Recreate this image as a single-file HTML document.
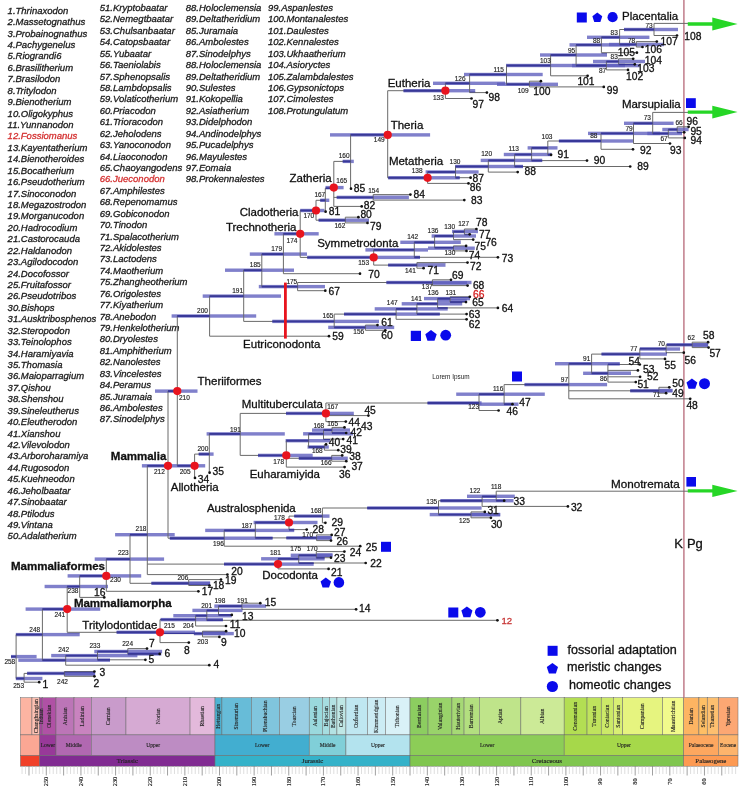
<!DOCTYPE html><html><head><meta charset="utf-8"><title>Mammaliaform phylogeny</title><style>
html,body{margin:0;padding:0;background:#fff;width:752px;height:798px;overflow:hidden}
svg{display:block} text{stroke-width:0.3px;stroke-linejoin:round}
.sp{stroke:#1a1a1a;font-family:"Liberation Sans",Arial,sans-serif;font-style:italic;font-size:9.5px;fill:#1a1a1a}
.tip{stroke:#111;font-family:"Liberation Sans",Arial,sans-serif;font-size:10.3px;fill:#111}
.tipred{stroke:#d42020;font-family:"Liberation Sans",Arial,sans-serif;font-size:10.3px;fill:#d42020}
.tipred2{stroke:#c83838;font-family:"Liberation Sans",Arial,sans-serif;font-size:9.6px;fill:#c83838}
.age{font-family:"Liberation Sans",Arial,sans-serif;font-size:6.5px;fill:#222;stroke:#222;stroke-width:0.15px}
.clade{stroke:#111;font-family:"Liberation Sans",Arial,sans-serif;font-size:11.5px;fill:#111}
.clade2{stroke:#111;font-family:"Liberation Sans",Arial,sans-serif;font-size:11.7px;fill:#111}
.bold{stroke:#111;font-family:"Liberation Sans",Arial,sans-serif;font-size:11.5px;font-weight:bold;fill:#111}
.small{font-family:"Liberation Sans",Arial,sans-serif;font-size:6.4px;fill:#222}
.leg{stroke:#111;font-family:"Liberation Sans",Arial,sans-serif;font-size:12.6px;fill:#111}
.kpg{stroke:#111;font-family:"Liberation Sans",Arial,sans-serif;font-size:13px;fill:#111}
.ts{font-family:"Liberation Serif","Times New Roman",serif;font-size:5.7px;fill:#222;stroke:#222;stroke-width:0.12px}
.tsb{font-family:"Liberation Serif","Times New Roman",serif;font-size:6.8px;fill:#222;stroke:#222;stroke-width:0.15px}
.tk{font-family:"Liberation Serif","Times New Roman",serif;font-size:6.3px;fill:#222;stroke:#222;stroke-width:0.15px}
</style></head><body>
<svg width="752" height="798" viewBox="0 0 752 798">
<text class="sp" x="7.6" y="13.6">1.Thrinaxodon</text>
<text class="sp" x="7.6" y="25.0">2.Massetognathus</text>
<text class="sp" x="7.6" y="36.5">3.Probainognathus</text>
<text class="sp" x="7.6" y="47.9">4.Pachygenelus</text>
<text class="sp" x="7.6" y="59.3">5.Riograndi6</text>
<text class="sp" x="7.6" y="70.8">6.Brasilitherium</text>
<text class="sp" x="7.6" y="82.2">7.Brasilodon</text>
<text class="sp" x="7.6" y="93.6">8.Tritylodon</text>
<text class="sp" x="7.6" y="105.0">9.Bienotherium</text>
<text class="sp" x="7.6" y="116.5">10.Oligokyphus</text>
<text class="sp" x="7.6" y="127.9">11.Yunnanodon</text>
<text class="sp" x="7.6" y="139.3" style="fill:#d43030;stroke:#d43030">12.Fossiomanus</text>
<text class="sp" x="7.6" y="150.8">13.Kayentatherium</text>
<text class="sp" x="7.6" y="162.2">14.Bienotheroides</text>
<text class="sp" x="7.6" y="173.6">15.Bocatherium</text>
<text class="sp" x="7.6" y="185.0">16.Pseudotherium</text>
<text class="sp" x="7.6" y="196.5">17.Sinoconodon</text>
<text class="sp" x="7.6" y="207.9">18.Megazostrodon</text>
<text class="sp" x="7.6" y="219.3">19.Morganucodon</text>
<text class="sp" x="7.6" y="230.8">20.Hadrocodium</text>
<text class="sp" x="7.6" y="242.2">21.Castorocauda</text>
<text class="sp" x="7.6" y="253.6">22.Haldanodon</text>
<text class="sp" x="7.6" y="265.1">23.Agilodocodon</text>
<text class="sp" x="7.6" y="276.5">24.Docofossor</text>
<text class="sp" x="7.6" y="287.9">25.Fruitafossor</text>
<text class="sp" x="7.6" y="299.4">26.Pseudotribos</text>
<text class="sp" x="7.6" y="310.8">30.Bishops</text>
<text class="sp" x="7.6" y="322.2">31.Ausktribosphenos</text>
<text class="sp" x="7.6" y="333.6">32.Steropodon</text>
<text class="sp" x="7.6" y="345.1">33.Teinolophos</text>
<text class="sp" x="7.6" y="356.5">34.Haramiyavia</text>
<text class="sp" x="7.6" y="367.9">35.Thomasia</text>
<text class="sp" x="7.6" y="379.4">36.Maioparragium</text>
<text class="sp" x="7.6" y="390.8">37.Qishou</text>
<text class="sp" x="7.6" y="402.2">38.Shenshou</text>
<text class="sp" x="7.6" y="413.7">39.Sineleutherus</text>
<text class="sp" x="7.6" y="425.1">40.Eleutherodon</text>
<text class="sp" x="7.6" y="436.5">41.Xianshou</text>
<text class="sp" x="7.6" y="447.9">42.Vilevolodon</text>
<text class="sp" x="7.6" y="459.4">43.Arboroharamiya</text>
<text class="sp" x="7.6" y="470.8">44.Rugosodon</text>
<text class="sp" x="7.6" y="482.2">45.Kuehneodon</text>
<text class="sp" x="7.6" y="493.7">46.Jeholbaatar</text>
<text class="sp" x="7.6" y="505.1">47.Sinobaatar</text>
<text class="sp" x="7.6" y="516.5">48.Ptilodus</text>
<text class="sp" x="7.6" y="528.0">49.Vintana</text>
<text class="sp" x="7.6" y="539.4">50.Adalatherium</text>
<text class="sp" x="99.8" y="10.9">51.Kryptobaatar</text>
<text class="sp" x="99.8" y="22.3">52.Nemegtbaatar</text>
<text class="sp" x="99.8" y="33.8">53.Chulsanbaatar</text>
<text class="sp" x="99.8" y="45.2">54.Catopsbaatar</text>
<text class="sp" x="99.8" y="56.6">55.Yubaatar</text>
<text class="sp" x="99.8" y="68.0">56.Taeniolabis</text>
<text class="sp" x="99.8" y="79.5">57.Sphenopsalis</text>
<text class="sp" x="99.8" y="90.9">58.Lambdopsalis</text>
<text class="sp" x="99.8" y="102.3">59.Volaticotherium</text>
<text class="sp" x="99.8" y="113.8">60.Priacodon</text>
<text class="sp" x="99.8" y="125.2">61.Trioracodon</text>
<text class="sp" x="99.8" y="136.6">62.Jeholodens</text>
<text class="sp" x="99.8" y="148.1">63.Yanoconodon</text>
<text class="sp" x="99.8" y="159.5">64.Liaoconodon</text>
<text class="sp" x="99.8" y="170.9">65.Chaoyangodens</text>
<text class="sp" x="99.8" y="182.3" style="fill:#d43030;stroke:#d43030">66.Jueconodon</text>
<text class="sp" x="99.8" y="193.8">67.Amphilestes</text>
<text class="sp" x="99.8" y="205.2">68.Repenomamus</text>
<text class="sp" x="99.8" y="216.6">69.Gobiconodon</text>
<text class="sp" x="99.8" y="228.1">70.Tinodon</text>
<text class="sp" x="99.8" y="239.5">71.Spalacotherium</text>
<text class="sp" x="99.8" y="250.9">72.Akidolestes</text>
<text class="sp" x="99.8" y="262.4">73.Lactodens</text>
<text class="sp" x="99.8" y="273.8">74.Maotherium</text>
<text class="sp" x="99.8" y="285.2">75.Zhangheotherium</text>
<text class="sp" x="99.8" y="296.6">76.Origolestes</text>
<text class="sp" x="99.8" y="308.1">77.Kiyatherium</text>
<text class="sp" x="99.8" y="319.5">78.Anebodon</text>
<text class="sp" x="99.8" y="330.9">79.Henkelotherium</text>
<text class="sp" x="99.8" y="342.4">80.Dryolestes</text>
<text class="sp" x="99.8" y="353.8">81.Amphitherium</text>
<text class="sp" x="99.8" y="365.2">82.Nanolestes</text>
<text class="sp" x="99.8" y="376.7">83.Vincelestes</text>
<text class="sp" x="99.8" y="388.1">84.Peramus</text>
<text class="sp" x="99.8" y="399.5">85.Juramaia</text>
<text class="sp" x="99.8" y="410.9">86.Ambolestes</text>
<text class="sp" x="99.8" y="422.4">87.Sinodelphys</text>
<text class="sp" x="185.8" y="10.9">88.Holoclemensia</text>
<text class="sp" x="185.8" y="22.3">89.Deltatheridium</text>
<text class="sp" x="185.8" y="33.8">85.Juramaia</text>
<text class="sp" x="185.8" y="45.2">86.Ambolestes</text>
<text class="sp" x="185.8" y="56.6">87.Sinodelphys</text>
<text class="sp" x="185.8" y="68.0">88.Holoclemensia</text>
<text class="sp" x="185.8" y="79.5">89.Deltatheridium</text>
<text class="sp" x="185.8" y="90.9">90.Sulestes</text>
<text class="sp" x="185.8" y="102.3">91.Kokopellia</text>
<text class="sp" x="185.8" y="113.8">92.Asiatherium</text>
<text class="sp" x="185.8" y="125.2">93.Didelphodon</text>
<text class="sp" x="185.8" y="136.6">94.Andinodelphys</text>
<text class="sp" x="185.8" y="148.1">95.Pucadelphys</text>
<text class="sp" x="185.8" y="159.5">96.Mayulestes</text>
<text class="sp" x="185.8" y="170.9">97.Eomaia</text>
<text class="sp" x="185.8" y="182.3">98.Prokennalestes</text>
<text class="sp" x="268.0" y="10.9">99.Aspanlestes</text>
<text class="sp" x="268.0" y="22.3">100.Montanalestes</text>
<text class="sp" x="268.0" y="33.8">101.Daulestes</text>
<text class="sp" x="268.0" y="45.2">102.Kennalestes</text>
<text class="sp" x="268.0" y="56.6">103.Ukhaatherium</text>
<text class="sp" x="268.0" y="68.0">104.Asioryctes</text>
<text class="sp" x="268.0" y="79.5">105.Zalambdalestes</text>
<text class="sp" x="268.0" y="90.9">106.Gypsonictops</text>
<text class="sp" x="268.0" y="102.3">107.Cimolestes</text>
<text class="sp" x="268.0" y="113.8">108.Protungulatum</text>
<g stroke="#6a6a6a" stroke-width="0.5">
<rect x="20.40" y="697.7" width="11.56" height="37.20" fill="#FCB4A2"/>
<rect x="31.96" y="697.7" width="7.75" height="37.20" fill="#FCC0B2"/>
<rect x="39.71" y="697.7" width="2.43" height="37.20" fill="#A4469F"/>
<rect x="42.14" y="697.7" width="13.86" height="37.20" fill="#B051A5"/>
<rect x="56.00" y="697.7" width="18.01" height="37.20" fill="#BC75B7"/>
<rect x="74.01" y="697.7" width="17.32" height="37.20" fill="#C983BF"/>
<rect x="91.33" y="697.7" width="34.64" height="37.20" fill="#C99BCB"/>
<rect x="125.97" y="697.7" width="64.08" height="37.20" fill="#D6AAD3"/>
<rect x="190.06" y="697.7" width="24.94" height="37.20" fill="#E3B9DB"/>
<rect x="215.00" y="697.7" width="6.93" height="37.20" fill="#4EB3D3"/>
<rect x="221.92" y="697.7" width="29.44" height="37.20" fill="#67BCD8"/>
<rect x="251.37" y="697.7" width="28.06" height="37.20" fill="#80C5DD"/>
<rect x="279.43" y="697.7" width="29.79" height="37.20" fill="#99CEE3"/>
<rect x="309.22" y="697.7" width="13.16" height="37.20" fill="#9AD9DD"/>
<rect x="322.38" y="697.7" width="6.93" height="37.20" fill="#A6DDE0"/>
<rect x="329.31" y="697.7" width="7.62" height="37.20" fill="#B3E2E3"/>
<rect x="336.93" y="697.7" width="9.01" height="37.20" fill="#BFE7E5"/>
<rect x="345.94" y="697.7" width="21.48" height="37.20" fill="#BFE7F1"/>
<rect x="367.41" y="697.7" width="18.01" height="37.20" fill="#CCECF4"/>
<rect x="385.43" y="697.7" width="24.59" height="37.20" fill="#D9F1F7"/>
<rect x="410.02" y="697.7" width="18.01" height="37.20" fill="#8CCD60"/>
<rect x="428.03" y="697.7" width="23.90" height="37.20" fill="#99D36A"/>
<rect x="451.93" y="697.7" width="12.12" height="37.20" fill="#A6D975"/>
<rect x="464.06" y="697.7" width="15.24" height="37.20" fill="#B3DF7F"/>
<rect x="479.30" y="697.7" width="41.57" height="37.20" fill="#BFE48A"/>
<rect x="520.87" y="697.7" width="43.30" height="37.20" fill="#CCEA97"/>
<rect x="564.17" y="697.7" width="22.86" height="37.20" fill="#B3DE53"/>
<rect x="587.03" y="697.7" width="14.20" height="37.20" fill="#BFE35D"/>
<rect x="601.23" y="697.7" width="12.12" height="37.20" fill="#CCE968"/>
<rect x="613.36" y="697.7" width="9.35" height="37.20" fill="#D9EF74"/>
<rect x="622.71" y="697.7" width="39.84" height="37.20" fill="#E6F47F"/>
<rect x="662.55" y="697.7" width="21.13" height="37.20" fill="#F2FA8C"/>
<rect x="683.68" y="697.7" width="15.24" height="37.20" fill="#FDB462"/>
<rect x="698.92" y="697.7" width="8.31" height="37.20" fill="#FEBF65"/>
<rect x="707.23" y="697.7" width="11.08" height="37.20" fill="#FDBF6F"/>
<rect x="718.32" y="697.7" width="19.68" height="37.20" fill="#FCA773"/>
<rect x="20.40" y="734.9" width="19.31" height="20.80" fill="#FBA794"/>
<rect x="39.71" y="734.9" width="16.29" height="20.80" fill="#983999"/>
<rect x="56.00" y="734.9" width="35.33" height="20.80" fill="#B168B1"/>
<rect x="91.33" y="734.9" width="123.66" height="20.80" fill="#BD8CC3"/>
<rect x="215.00" y="734.9" width="94.22" height="20.80" fill="#42AED0"/>
<rect x="309.22" y="734.9" width="36.72" height="20.80" fill="#80CFD8"/>
<rect x="345.94" y="734.9" width="64.08" height="20.80" fill="#B3E3EE"/>
<rect x="410.02" y="734.9" width="154.15" height="20.80" fill="#8CCD57"/>
<rect x="564.17" y="734.9" width="119.51" height="20.80" fill="#A6D84A"/>
<rect x="683.68" y="734.9" width="34.64" height="20.80" fill="#FDA75F"/>
<rect x="718.32" y="734.9" width="19.68" height="20.80" fill="#FDB46C"/>
<rect x="20.40" y="755.7" width="19.31" height="10.50" fill="#F04028"/>
<rect x="39.71" y="755.7" width="175.29" height="10.50" fill="#812B92"/>
<rect x="215.00" y="755.7" width="195.02" height="10.50" fill="#34B2C9"/>
<rect x="410.02" y="755.7" width="273.66" height="10.50" fill="#7FC64E"/>
<rect x="683.68" y="755.7" width="54.32" height="10.50" fill="#FD9A52"/>
</g>
<text class="ts" x="37.54" y="716.30" text-anchor="middle" transform="rotate(-90 37.54 716.30)">Changhsingian</text>
<text class="ts" x="42.63" y="716.30" text-anchor="middle" transform="rotate(-90 42.63 716.30)">Induan</text>
<text class="ts" x="50.77" y="716.30" text-anchor="middle" transform="rotate(-90 50.77 716.30)">Olenekian</text>
<text class="ts" x="66.71" y="716.30" text-anchor="middle" transform="rotate(-90 66.71 716.30)">Anisian</text>
<text class="ts" x="84.37" y="716.30" text-anchor="middle" transform="rotate(-90 84.37 716.30)">Ladinian</text>
<text class="ts" x="110.35" y="716.30" text-anchor="middle" transform="rotate(-90 110.35 716.30)">Carnian</text>
<text class="ts" x="159.71" y="716.30" text-anchor="middle" transform="rotate(-90 159.71 716.30)">Norian</text>
<text class="ts" x="204.23" y="716.30" text-anchor="middle" transform="rotate(-90 204.23 716.30)">Rhaetian</text>
<text class="ts" x="220.16" y="716.30" text-anchor="middle" transform="rotate(-90 220.16 716.30)">Hettangian</text>
<text class="ts" x="238.35" y="716.30" text-anchor="middle" transform="rotate(-90 238.35 716.30)">Sinemurian</text>
<text class="ts" x="267.10" y="716.30" text-anchor="middle" transform="rotate(-90 267.10 716.30)">Pliensbachian</text>
<text class="ts" x="296.02" y="716.30" text-anchor="middle" transform="rotate(-90 296.02 716.30)">Toarcian</text>
<text class="ts" x="317.50" y="716.30" text-anchor="middle" transform="rotate(-90 317.50 716.30)">Aalenian</text>
<text class="ts" x="327.54" y="716.30" text-anchor="middle" transform="rotate(-90 327.54 716.30)">Bajocian</text>
<text class="ts" x="334.82" y="716.30" text-anchor="middle" transform="rotate(-90 334.82 716.30)">Bathonian</text>
<text class="ts" x="343.13" y="716.30" text-anchor="middle" transform="rotate(-90 343.13 716.30)">Callovian</text>
<text class="ts" x="358.37" y="716.30" text-anchor="middle" transform="rotate(-90 358.37 716.30)">Oxfordian</text>
<text class="ts" x="378.12" y="716.30" text-anchor="middle" transform="rotate(-90 378.12 716.30)">Kimmeridgian</text>
<text class="ts" x="399.42" y="716.30" text-anchor="middle" transform="rotate(-90 399.42 716.30)">Tithonian</text>
<text class="ts" x="420.73" y="716.30" text-anchor="middle" transform="rotate(-90 420.73 716.30)">Berriasian</text>
<text class="ts" x="441.68" y="716.30" text-anchor="middle" transform="rotate(-90 441.68 716.30)">Valanginian</text>
<text class="ts" x="459.70" y="716.30" text-anchor="middle" transform="rotate(-90 459.70 716.30)">Hauterivian</text>
<text class="ts" x="473.38" y="716.30" text-anchor="middle" transform="rotate(-90 473.38 716.30)">Barremian</text>
<text class="ts" x="501.78" y="716.30" text-anchor="middle" transform="rotate(-90 501.78 716.30)">Aptian</text>
<text class="ts" x="544.22" y="716.30" text-anchor="middle" transform="rotate(-90 544.22 716.30)">Albian</text>
<text class="ts" x="577.30" y="716.30" text-anchor="middle" transform="rotate(-90 577.30 716.30)">Cenomanian</text>
<text class="ts" x="595.83" y="716.30" text-anchor="middle" transform="rotate(-90 595.83 716.30)">Turonian</text>
<text class="ts" x="608.99" y="716.30" text-anchor="middle" transform="rotate(-90 608.99 716.30)">Coniacian</text>
<text class="ts" x="619.73" y="716.30" text-anchor="middle" transform="rotate(-90 619.73 716.30)">Santonian</text>
<text class="ts" x="644.33" y="716.30" text-anchor="middle" transform="rotate(-90 644.33 716.30)">Campanian</text>
<text class="ts" x="674.81" y="716.30" text-anchor="middle" transform="rotate(-90 674.81 716.30)">Maastrichtian</text>
<text class="ts" x="693.00" y="716.30" text-anchor="middle" transform="rotate(-90 693.00 716.30)">Danian</text>
<text class="ts" x="704.77" y="716.30" text-anchor="middle" transform="rotate(-90 704.77 716.30)">Selandian</text>
<text class="ts" x="714.47" y="716.30" text-anchor="middle" transform="rotate(-90 714.47 716.30)">Thanetian</text>
<text class="ts" x="729.86" y="716.30" text-anchor="middle" transform="rotate(-90 729.86 716.30)">Ypresian</text>
<text class="ts" x="47.86" y="747.30" text-anchor="middle" style="font-size:5.5px">Lower</text>
<text class="ts" x="73.67" y="747.30" text-anchor="middle" style="font-size:5.5px">Middle</text>
<text class="ts" x="153.16" y="747.30" text-anchor="middle" style="font-size:5.5px">Upper</text>
<text class="ts" x="262.11" y="747.30" text-anchor="middle" style="font-size:5.5px">Lower</text>
<text class="ts" x="327.58" y="747.30" text-anchor="middle" style="font-size:5.5px">Middle</text>
<text class="ts" x="377.98" y="747.30" text-anchor="middle" style="font-size:5.5px">Upper</text>
<text class="ts" x="487.09" y="747.30" text-anchor="middle" style="font-size:5.5px">Lower</text>
<text class="ts" x="623.92" y="747.30" text-anchor="middle" style="font-size:5.5px">Upper</text>
<text class="ts" x="701.00" y="747.30" text-anchor="middle" style="font-size:5.5px">Palaeocene</text>
<text class="ts" x="728.16" y="747.30" text-anchor="middle" style="font-size:5.5px">Eocene</text>
<text class="tsb" x="127.35" y="763.25" text-anchor="middle">Triassic</text>
<text class="tsb" x="312.51" y="763.25" text-anchor="middle">Jurassic</text>
<text class="tsb" x="546.85" y="763.25" text-anchor="middle">Cretaceous</text>
<text class="tsb" x="710.84" y="763.25" text-anchor="middle">Palaeogene</text>
<line x1="22.05" y1="766.2" x2="22.05" y2="774" stroke="#c8c8c8" stroke-width="0.6"/><line x1="25.52" y1="766.2" x2="25.52" y2="774" stroke="#c8c8c8" stroke-width="0.6"/><line x1="28.98" y1="766.2" x2="28.98" y2="775.5" stroke="#777" stroke-width="0.7"/><line x1="32.44" y1="766.2" x2="32.44" y2="774" stroke="#c8c8c8" stroke-width="0.6"/><line x1="35.91" y1="766.2" x2="35.91" y2="774" stroke="#c8c8c8" stroke-width="0.6"/><line x1="39.37" y1="766.2" x2="39.37" y2="774" stroke="#c8c8c8" stroke-width="0.6"/><line x1="42.84" y1="766.2" x2="42.84" y2="774" stroke="#c8c8c8" stroke-width="0.6"/><line x1="46.30" y1="766.2" x2="46.30" y2="775.5" stroke="#777" stroke-width="0.7"/><text class="tk" x="48.20" y="781.5" text-anchor="middle" transform="rotate(-90 48.20 781.5)">250</text><line x1="49.76" y1="766.2" x2="49.76" y2="774" stroke="#c8c8c8" stroke-width="0.6"/><line x1="53.23" y1="766.2" x2="53.23" y2="774" stroke="#c8c8c8" stroke-width="0.6"/><line x1="56.69" y1="766.2" x2="56.69" y2="774" stroke="#c8c8c8" stroke-width="0.6"/><line x1="60.16" y1="766.2" x2="60.16" y2="774" stroke="#c8c8c8" stroke-width="0.6"/><line x1="63.62" y1="766.2" x2="63.62" y2="775.5" stroke="#777" stroke-width="0.7"/><line x1="67.08" y1="766.2" x2="67.08" y2="774" stroke="#c8c8c8" stroke-width="0.6"/><line x1="70.55" y1="766.2" x2="70.55" y2="774" stroke="#c8c8c8" stroke-width="0.6"/><line x1="74.01" y1="766.2" x2="74.01" y2="774" stroke="#c8c8c8" stroke-width="0.6"/><line x1="77.48" y1="766.2" x2="77.48" y2="774" stroke="#c8c8c8" stroke-width="0.6"/><line x1="80.94" y1="766.2" x2="80.94" y2="775.5" stroke="#777" stroke-width="0.7"/><text class="tk" x="82.84" y="781.5" text-anchor="middle" transform="rotate(-90 82.84 781.5)">240</text><line x1="84.40" y1="766.2" x2="84.40" y2="774" stroke="#c8c8c8" stroke-width="0.6"/><line x1="87.87" y1="766.2" x2="87.87" y2="774" stroke="#c8c8c8" stroke-width="0.6"/><line x1="91.33" y1="766.2" x2="91.33" y2="774" stroke="#c8c8c8" stroke-width="0.6"/><line x1="94.80" y1="766.2" x2="94.80" y2="774" stroke="#c8c8c8" stroke-width="0.6"/><line x1="98.26" y1="766.2" x2="98.26" y2="775.5" stroke="#777" stroke-width="0.7"/><line x1="101.72" y1="766.2" x2="101.72" y2="774" stroke="#c8c8c8" stroke-width="0.6"/><line x1="105.19" y1="766.2" x2="105.19" y2="774" stroke="#c8c8c8" stroke-width="0.6"/><line x1="108.65" y1="766.2" x2="108.65" y2="774" stroke="#c8c8c8" stroke-width="0.6"/><line x1="112.12" y1="766.2" x2="112.12" y2="774" stroke="#c8c8c8" stroke-width="0.6"/><line x1="115.58" y1="766.2" x2="115.58" y2="775.5" stroke="#777" stroke-width="0.7"/><text class="tk" x="117.48" y="781.5" text-anchor="middle" transform="rotate(-90 117.48 781.5)">230</text><line x1="119.04" y1="766.2" x2="119.04" y2="774" stroke="#c8c8c8" stroke-width="0.6"/><line x1="122.51" y1="766.2" x2="122.51" y2="774" stroke="#c8c8c8" stroke-width="0.6"/><line x1="125.97" y1="766.2" x2="125.97" y2="774" stroke="#c8c8c8" stroke-width="0.6"/><line x1="129.44" y1="766.2" x2="129.44" y2="774" stroke="#c8c8c8" stroke-width="0.6"/><line x1="132.90" y1="766.2" x2="132.90" y2="775.5" stroke="#777" stroke-width="0.7"/><line x1="136.36" y1="766.2" x2="136.36" y2="774" stroke="#c8c8c8" stroke-width="0.6"/><line x1="139.83" y1="766.2" x2="139.83" y2="774" stroke="#c8c8c8" stroke-width="0.6"/><line x1="143.29" y1="766.2" x2="143.29" y2="774" stroke="#c8c8c8" stroke-width="0.6"/><line x1="146.76" y1="766.2" x2="146.76" y2="774" stroke="#c8c8c8" stroke-width="0.6"/><line x1="150.22" y1="766.2" x2="150.22" y2="775.5" stroke="#777" stroke-width="0.7"/><text class="tk" x="152.12" y="781.5" text-anchor="middle" transform="rotate(-90 152.12 781.5)">220</text><line x1="153.68" y1="766.2" x2="153.68" y2="774" stroke="#c8c8c8" stroke-width="0.6"/><line x1="157.15" y1="766.2" x2="157.15" y2="774" stroke="#c8c8c8" stroke-width="0.6"/><line x1="160.61" y1="766.2" x2="160.61" y2="774" stroke="#c8c8c8" stroke-width="0.6"/><line x1="164.08" y1="766.2" x2="164.08" y2="774" stroke="#c8c8c8" stroke-width="0.6"/><line x1="167.54" y1="766.2" x2="167.54" y2="775.5" stroke="#777" stroke-width="0.7"/><line x1="171.00" y1="766.2" x2="171.00" y2="774" stroke="#c8c8c8" stroke-width="0.6"/><line x1="174.47" y1="766.2" x2="174.47" y2="774" stroke="#c8c8c8" stroke-width="0.6"/><line x1="177.93" y1="766.2" x2="177.93" y2="774" stroke="#c8c8c8" stroke-width="0.6"/><line x1="181.40" y1="766.2" x2="181.40" y2="774" stroke="#c8c8c8" stroke-width="0.6"/><line x1="184.86" y1="766.2" x2="184.86" y2="775.5" stroke="#777" stroke-width="0.7"/><text class="tk" x="186.76" y="781.5" text-anchor="middle" transform="rotate(-90 186.76 781.5)">210</text><line x1="188.32" y1="766.2" x2="188.32" y2="774" stroke="#c8c8c8" stroke-width="0.6"/><line x1="191.79" y1="766.2" x2="191.79" y2="774" stroke="#c8c8c8" stroke-width="0.6"/><line x1="195.25" y1="766.2" x2="195.25" y2="774" stroke="#c8c8c8" stroke-width="0.6"/><line x1="198.72" y1="766.2" x2="198.72" y2="774" stroke="#c8c8c8" stroke-width="0.6"/><line x1="202.18" y1="766.2" x2="202.18" y2="775.5" stroke="#777" stroke-width="0.7"/><line x1="205.64" y1="766.2" x2="205.64" y2="774" stroke="#c8c8c8" stroke-width="0.6"/><line x1="209.11" y1="766.2" x2="209.11" y2="774" stroke="#c8c8c8" stroke-width="0.6"/><line x1="212.57" y1="766.2" x2="212.57" y2="774" stroke="#c8c8c8" stroke-width="0.6"/><line x1="216.04" y1="766.2" x2="216.04" y2="774" stroke="#c8c8c8" stroke-width="0.6"/><line x1="219.50" y1="766.2" x2="219.50" y2="775.5" stroke="#777" stroke-width="0.7"/><text class="tk" x="221.40" y="781.5" text-anchor="middle" transform="rotate(-90 221.40 781.5)">200</text><line x1="222.96" y1="766.2" x2="222.96" y2="774" stroke="#c8c8c8" stroke-width="0.6"/><line x1="226.43" y1="766.2" x2="226.43" y2="774" stroke="#c8c8c8" stroke-width="0.6"/><line x1="229.89" y1="766.2" x2="229.89" y2="774" stroke="#c8c8c8" stroke-width="0.6"/><line x1="233.36" y1="766.2" x2="233.36" y2="774" stroke="#c8c8c8" stroke-width="0.6"/><line x1="236.82" y1="766.2" x2="236.82" y2="775.5" stroke="#777" stroke-width="0.7"/><line x1="240.28" y1="766.2" x2="240.28" y2="774" stroke="#c8c8c8" stroke-width="0.6"/><line x1="243.75" y1="766.2" x2="243.75" y2="774" stroke="#c8c8c8" stroke-width="0.6"/><line x1="247.21" y1="766.2" x2="247.21" y2="774" stroke="#c8c8c8" stroke-width="0.6"/><line x1="250.68" y1="766.2" x2="250.68" y2="774" stroke="#c8c8c8" stroke-width="0.6"/><line x1="254.14" y1="766.2" x2="254.14" y2="775.5" stroke="#777" stroke-width="0.7"/><text class="tk" x="256.04" y="781.5" text-anchor="middle" transform="rotate(-90 256.04 781.5)">190</text><line x1="257.60" y1="766.2" x2="257.60" y2="774" stroke="#c8c8c8" stroke-width="0.6"/><line x1="261.07" y1="766.2" x2="261.07" y2="774" stroke="#c8c8c8" stroke-width="0.6"/><line x1="264.53" y1="766.2" x2="264.53" y2="774" stroke="#c8c8c8" stroke-width="0.6"/><line x1="268.00" y1="766.2" x2="268.00" y2="774" stroke="#c8c8c8" stroke-width="0.6"/><line x1="271.46" y1="766.2" x2="271.46" y2="775.5" stroke="#777" stroke-width="0.7"/><line x1="274.92" y1="766.2" x2="274.92" y2="774" stroke="#c8c8c8" stroke-width="0.6"/><line x1="278.39" y1="766.2" x2="278.39" y2="774" stroke="#c8c8c8" stroke-width="0.6"/><line x1="281.85" y1="766.2" x2="281.85" y2="774" stroke="#c8c8c8" stroke-width="0.6"/><line x1="285.32" y1="766.2" x2="285.32" y2="774" stroke="#c8c8c8" stroke-width="0.6"/><line x1="288.78" y1="766.2" x2="288.78" y2="775.5" stroke="#777" stroke-width="0.7"/><text class="tk" x="290.68" y="781.5" text-anchor="middle" transform="rotate(-90 290.68 781.5)">180</text><line x1="292.24" y1="766.2" x2="292.24" y2="774" stroke="#c8c8c8" stroke-width="0.6"/><line x1="295.71" y1="766.2" x2="295.71" y2="774" stroke="#c8c8c8" stroke-width="0.6"/><line x1="299.17" y1="766.2" x2="299.17" y2="774" stroke="#c8c8c8" stroke-width="0.6"/><line x1="302.64" y1="766.2" x2="302.64" y2="774" stroke="#c8c8c8" stroke-width="0.6"/><line x1="306.10" y1="766.2" x2="306.10" y2="775.5" stroke="#777" stroke-width="0.7"/><line x1="309.56" y1="766.2" x2="309.56" y2="774" stroke="#c8c8c8" stroke-width="0.6"/><line x1="313.03" y1="766.2" x2="313.03" y2="774" stroke="#c8c8c8" stroke-width="0.6"/><line x1="316.49" y1="766.2" x2="316.49" y2="774" stroke="#c8c8c8" stroke-width="0.6"/><line x1="319.96" y1="766.2" x2="319.96" y2="774" stroke="#c8c8c8" stroke-width="0.6"/><line x1="323.42" y1="766.2" x2="323.42" y2="775.5" stroke="#777" stroke-width="0.7"/><text class="tk" x="325.32" y="781.5" text-anchor="middle" transform="rotate(-90 325.32 781.5)">170</text><line x1="326.88" y1="766.2" x2="326.88" y2="774" stroke="#c8c8c8" stroke-width="0.6"/><line x1="330.35" y1="766.2" x2="330.35" y2="774" stroke="#c8c8c8" stroke-width="0.6"/><line x1="333.81" y1="766.2" x2="333.81" y2="774" stroke="#c8c8c8" stroke-width="0.6"/><line x1="337.28" y1="766.2" x2="337.28" y2="774" stroke="#c8c8c8" stroke-width="0.6"/><line x1="340.74" y1="766.2" x2="340.74" y2="775.5" stroke="#777" stroke-width="0.7"/><line x1="344.20" y1="766.2" x2="344.20" y2="774" stroke="#c8c8c8" stroke-width="0.6"/><line x1="347.67" y1="766.2" x2="347.67" y2="774" stroke="#c8c8c8" stroke-width="0.6"/><line x1="351.13" y1="766.2" x2="351.13" y2="774" stroke="#c8c8c8" stroke-width="0.6"/><line x1="354.60" y1="766.2" x2="354.60" y2="774" stroke="#c8c8c8" stroke-width="0.6"/><line x1="358.06" y1="766.2" x2="358.06" y2="775.5" stroke="#777" stroke-width="0.7"/><text class="tk" x="359.96" y="781.5" text-anchor="middle" transform="rotate(-90 359.96 781.5)">160</text><line x1="361.52" y1="766.2" x2="361.52" y2="774" stroke="#c8c8c8" stroke-width="0.6"/><line x1="364.99" y1="766.2" x2="364.99" y2="774" stroke="#c8c8c8" stroke-width="0.6"/><line x1="368.45" y1="766.2" x2="368.45" y2="774" stroke="#c8c8c8" stroke-width="0.6"/><line x1="371.92" y1="766.2" x2="371.92" y2="774" stroke="#c8c8c8" stroke-width="0.6"/><line x1="375.38" y1="766.2" x2="375.38" y2="775.5" stroke="#777" stroke-width="0.7"/><line x1="378.84" y1="766.2" x2="378.84" y2="774" stroke="#c8c8c8" stroke-width="0.6"/><line x1="382.31" y1="766.2" x2="382.31" y2="774" stroke="#c8c8c8" stroke-width="0.6"/><line x1="385.77" y1="766.2" x2="385.77" y2="774" stroke="#c8c8c8" stroke-width="0.6"/><line x1="389.24" y1="766.2" x2="389.24" y2="774" stroke="#c8c8c8" stroke-width="0.6"/><line x1="392.70" y1="766.2" x2="392.70" y2="775.5" stroke="#777" stroke-width="0.7"/><text class="tk" x="394.60" y="781.5" text-anchor="middle" transform="rotate(-90 394.60 781.5)">150</text><line x1="396.16" y1="766.2" x2="396.16" y2="774" stroke="#c8c8c8" stroke-width="0.6"/><line x1="399.63" y1="766.2" x2="399.63" y2="774" stroke="#c8c8c8" stroke-width="0.6"/><line x1="403.09" y1="766.2" x2="403.09" y2="774" stroke="#c8c8c8" stroke-width="0.6"/><line x1="406.56" y1="766.2" x2="406.56" y2="774" stroke="#c8c8c8" stroke-width="0.6"/><line x1="410.02" y1="766.2" x2="410.02" y2="775.5" stroke="#777" stroke-width="0.7"/><line x1="413.48" y1="766.2" x2="413.48" y2="774" stroke="#c8c8c8" stroke-width="0.6"/><line x1="416.95" y1="766.2" x2="416.95" y2="774" stroke="#c8c8c8" stroke-width="0.6"/><line x1="420.41" y1="766.2" x2="420.41" y2="774" stroke="#c8c8c8" stroke-width="0.6"/><line x1="423.88" y1="766.2" x2="423.88" y2="774" stroke="#c8c8c8" stroke-width="0.6"/><line x1="427.34" y1="766.2" x2="427.34" y2="775.5" stroke="#777" stroke-width="0.7"/><text class="tk" x="429.24" y="781.5" text-anchor="middle" transform="rotate(-90 429.24 781.5)">140</text><line x1="430.80" y1="766.2" x2="430.80" y2="774" stroke="#c8c8c8" stroke-width="0.6"/><line x1="434.27" y1="766.2" x2="434.27" y2="774" stroke="#c8c8c8" stroke-width="0.6"/><line x1="437.73" y1="766.2" x2="437.73" y2="774" stroke="#c8c8c8" stroke-width="0.6"/><line x1="441.20" y1="766.2" x2="441.20" y2="774" stroke="#c8c8c8" stroke-width="0.6"/><line x1="444.66" y1="766.2" x2="444.66" y2="775.5" stroke="#777" stroke-width="0.7"/><line x1="448.12" y1="766.2" x2="448.12" y2="774" stroke="#c8c8c8" stroke-width="0.6"/><line x1="451.59" y1="766.2" x2="451.59" y2="774" stroke="#c8c8c8" stroke-width="0.6"/><line x1="455.05" y1="766.2" x2="455.05" y2="774" stroke="#c8c8c8" stroke-width="0.6"/><line x1="458.52" y1="766.2" x2="458.52" y2="774" stroke="#c8c8c8" stroke-width="0.6"/><line x1="461.98" y1="766.2" x2="461.98" y2="775.5" stroke="#777" stroke-width="0.7"/><text class="tk" x="463.88" y="781.5" text-anchor="middle" transform="rotate(-90 463.88 781.5)">130</text><line x1="465.44" y1="766.2" x2="465.44" y2="774" stroke="#c8c8c8" stroke-width="0.6"/><line x1="468.91" y1="766.2" x2="468.91" y2="774" stroke="#c8c8c8" stroke-width="0.6"/><line x1="472.37" y1="766.2" x2="472.37" y2="774" stroke="#c8c8c8" stroke-width="0.6"/><line x1="475.84" y1="766.2" x2="475.84" y2="774" stroke="#c8c8c8" stroke-width="0.6"/><line x1="479.30" y1="766.2" x2="479.30" y2="775.5" stroke="#777" stroke-width="0.7"/><line x1="482.76" y1="766.2" x2="482.76" y2="774" stroke="#c8c8c8" stroke-width="0.6"/><line x1="486.23" y1="766.2" x2="486.23" y2="774" stroke="#c8c8c8" stroke-width="0.6"/><line x1="489.69" y1="766.2" x2="489.69" y2="774" stroke="#c8c8c8" stroke-width="0.6"/><line x1="493.16" y1="766.2" x2="493.16" y2="774" stroke="#c8c8c8" stroke-width="0.6"/><line x1="496.62" y1="766.2" x2="496.62" y2="775.5" stroke="#777" stroke-width="0.7"/><text class="tk" x="498.52" y="781.5" text-anchor="middle" transform="rotate(-90 498.52 781.5)">120</text><line x1="500.08" y1="766.2" x2="500.08" y2="774" stroke="#c8c8c8" stroke-width="0.6"/><line x1="503.55" y1="766.2" x2="503.55" y2="774" stroke="#c8c8c8" stroke-width="0.6"/><line x1="507.01" y1="766.2" x2="507.01" y2="774" stroke="#c8c8c8" stroke-width="0.6"/><line x1="510.48" y1="766.2" x2="510.48" y2="774" stroke="#c8c8c8" stroke-width="0.6"/><line x1="513.94" y1="766.2" x2="513.94" y2="775.5" stroke="#777" stroke-width="0.7"/><line x1="517.40" y1="766.2" x2="517.40" y2="774" stroke="#c8c8c8" stroke-width="0.6"/><line x1="520.87" y1="766.2" x2="520.87" y2="774" stroke="#c8c8c8" stroke-width="0.6"/><line x1="524.33" y1="766.2" x2="524.33" y2="774" stroke="#c8c8c8" stroke-width="0.6"/><line x1="527.80" y1="766.2" x2="527.80" y2="774" stroke="#c8c8c8" stroke-width="0.6"/><line x1="531.26" y1="766.2" x2="531.26" y2="775.5" stroke="#777" stroke-width="0.7"/><text class="tk" x="533.16" y="781.5" text-anchor="middle" transform="rotate(-90 533.16 781.5)">110</text><line x1="534.72" y1="766.2" x2="534.72" y2="774" stroke="#c8c8c8" stroke-width="0.6"/><line x1="538.19" y1="766.2" x2="538.19" y2="774" stroke="#c8c8c8" stroke-width="0.6"/><line x1="541.65" y1="766.2" x2="541.65" y2="774" stroke="#c8c8c8" stroke-width="0.6"/><line x1="545.12" y1="766.2" x2="545.12" y2="774" stroke="#c8c8c8" stroke-width="0.6"/><line x1="548.58" y1="766.2" x2="548.58" y2="775.5" stroke="#777" stroke-width="0.7"/><line x1="552.04" y1="766.2" x2="552.04" y2="774" stroke="#c8c8c8" stroke-width="0.6"/><line x1="555.51" y1="766.2" x2="555.51" y2="774" stroke="#c8c8c8" stroke-width="0.6"/><line x1="558.97" y1="766.2" x2="558.97" y2="774" stroke="#c8c8c8" stroke-width="0.6"/><line x1="562.44" y1="766.2" x2="562.44" y2="774" stroke="#c8c8c8" stroke-width="0.6"/><line x1="565.90" y1="766.2" x2="565.90" y2="775.5" stroke="#777" stroke-width="0.7"/><text class="tk" x="567.80" y="781.5" text-anchor="middle" transform="rotate(-90 567.80 781.5)">100</text><line x1="569.36" y1="766.2" x2="569.36" y2="774" stroke="#c8c8c8" stroke-width="0.6"/><line x1="572.83" y1="766.2" x2="572.83" y2="774" stroke="#c8c8c8" stroke-width="0.6"/><line x1="576.29" y1="766.2" x2="576.29" y2="774" stroke="#c8c8c8" stroke-width="0.6"/><line x1="579.76" y1="766.2" x2="579.76" y2="774" stroke="#c8c8c8" stroke-width="0.6"/><line x1="583.22" y1="766.2" x2="583.22" y2="775.5" stroke="#777" stroke-width="0.7"/><line x1="586.68" y1="766.2" x2="586.68" y2="774" stroke="#c8c8c8" stroke-width="0.6"/><line x1="590.15" y1="766.2" x2="590.15" y2="774" stroke="#c8c8c8" stroke-width="0.6"/><line x1="593.61" y1="766.2" x2="593.61" y2="774" stroke="#c8c8c8" stroke-width="0.6"/><line x1="597.08" y1="766.2" x2="597.08" y2="774" stroke="#c8c8c8" stroke-width="0.6"/><line x1="600.54" y1="766.2" x2="600.54" y2="775.5" stroke="#777" stroke-width="0.7"/><text class="tk" x="602.44" y="781.5" text-anchor="middle" transform="rotate(-90 602.44 781.5)">90</text><line x1="604.00" y1="766.2" x2="604.00" y2="774" stroke="#c8c8c8" stroke-width="0.6"/><line x1="607.47" y1="766.2" x2="607.47" y2="774" stroke="#c8c8c8" stroke-width="0.6"/><line x1="610.93" y1="766.2" x2="610.93" y2="774" stroke="#c8c8c8" stroke-width="0.6"/><line x1="614.40" y1="766.2" x2="614.40" y2="774" stroke="#c8c8c8" stroke-width="0.6"/><line x1="617.86" y1="766.2" x2="617.86" y2="775.5" stroke="#777" stroke-width="0.7"/><line x1="621.32" y1="766.2" x2="621.32" y2="774" stroke="#c8c8c8" stroke-width="0.6"/><line x1="624.79" y1="766.2" x2="624.79" y2="774" stroke="#c8c8c8" stroke-width="0.6"/><line x1="628.25" y1="766.2" x2="628.25" y2="774" stroke="#c8c8c8" stroke-width="0.6"/><line x1="631.72" y1="766.2" x2="631.72" y2="774" stroke="#c8c8c8" stroke-width="0.6"/><line x1="635.18" y1="766.2" x2="635.18" y2="775.5" stroke="#777" stroke-width="0.7"/><text class="tk" x="637.08" y="781.5" text-anchor="middle" transform="rotate(-90 637.08 781.5)">80</text><line x1="638.64" y1="766.2" x2="638.64" y2="774" stroke="#c8c8c8" stroke-width="0.6"/><line x1="642.11" y1="766.2" x2="642.11" y2="774" stroke="#c8c8c8" stroke-width="0.6"/><line x1="645.57" y1="766.2" x2="645.57" y2="774" stroke="#c8c8c8" stroke-width="0.6"/><line x1="649.04" y1="766.2" x2="649.04" y2="774" stroke="#c8c8c8" stroke-width="0.6"/><line x1="652.50" y1="766.2" x2="652.50" y2="775.5" stroke="#777" stroke-width="0.7"/><line x1="655.96" y1="766.2" x2="655.96" y2="774" stroke="#c8c8c8" stroke-width="0.6"/><line x1="659.43" y1="766.2" x2="659.43" y2="774" stroke="#c8c8c8" stroke-width="0.6"/><line x1="662.89" y1="766.2" x2="662.89" y2="774" stroke="#c8c8c8" stroke-width="0.6"/><line x1="666.36" y1="766.2" x2="666.36" y2="774" stroke="#c8c8c8" stroke-width="0.6"/><line x1="669.82" y1="766.2" x2="669.82" y2="775.5" stroke="#777" stroke-width="0.7"/><text class="tk" x="671.72" y="781.5" text-anchor="middle" transform="rotate(-90 671.72 781.5)">70</text><line x1="673.28" y1="766.2" x2="673.28" y2="774" stroke="#c8c8c8" stroke-width="0.6"/><line x1="676.75" y1="766.2" x2="676.75" y2="774" stroke="#c8c8c8" stroke-width="0.6"/><line x1="680.21" y1="766.2" x2="680.21" y2="774" stroke="#c8c8c8" stroke-width="0.6"/><line x1="683.68" y1="766.2" x2="683.68" y2="774" stroke="#c8c8c8" stroke-width="0.6"/><line x1="687.14" y1="766.2" x2="687.14" y2="775.5" stroke="#777" stroke-width="0.7"/><line x1="690.60" y1="766.2" x2="690.60" y2="774" stroke="#c8c8c8" stroke-width="0.6"/><line x1="694.07" y1="766.2" x2="694.07" y2="774" stroke="#c8c8c8" stroke-width="0.6"/><line x1="697.53" y1="766.2" x2="697.53" y2="774" stroke="#c8c8c8" stroke-width="0.6"/><line x1="701.00" y1="766.2" x2="701.00" y2="774" stroke="#c8c8c8" stroke-width="0.6"/><line x1="704.46" y1="766.2" x2="704.46" y2="775.5" stroke="#777" stroke-width="0.7"/><text class="tk" x="706.36" y="781.5" text-anchor="middle" transform="rotate(-90 706.36 781.5)">60</text><line x1="707.92" y1="766.2" x2="707.92" y2="774" stroke="#c8c8c8" stroke-width="0.6"/><line x1="711.39" y1="766.2" x2="711.39" y2="774" stroke="#c8c8c8" stroke-width="0.6"/><line x1="714.85" y1="766.2" x2="714.85" y2="774" stroke="#c8c8c8" stroke-width="0.6"/><line x1="718.32" y1="766.2" x2="718.32" y2="774" stroke="#c8c8c8" stroke-width="0.6"/><line x1="721.78" y1="766.2" x2="721.78" y2="775.5" stroke="#777" stroke-width="0.7"/><line x1="725.24" y1="766.2" x2="725.24" y2="774" stroke="#c8c8c8" stroke-width="0.6"/><line x1="728.71" y1="766.2" x2="728.71" y2="774" stroke="#c8c8c8" stroke-width="0.6"/><line x1="732.17" y1="766.2" x2="732.17" y2="774" stroke="#c8c8c8" stroke-width="0.6"/><line x1="735.64" y1="766.2" x2="735.64" y2="774" stroke="#c8c8c8" stroke-width="0.6"/>
<line x1="683.9" y1="0" x2="683.9" y2="697.7" stroke="#c07c8a" stroke-width="1.5"/>
<defs><clipPath id="bc">
<rect x="403.5" y="89.0" width="71.7" height="3.4"/>
<rect x="433.0" y="81.6" width="72.0" height="3.4"/>
<rect x="464.0" y="72.8" width="78.7" height="3.4"/>
<rect x="497.0" y="82.6" width="61.0" height="3.4"/>
<rect x="529.5" y="82.3" width="11.5" height="3.4"/>
<rect x="506.0" y="63.8" width="119.0" height="3.4"/>
<rect x="540.0" y="53.3" width="67.0" height="3.4"/>
<rect x="572.0" y="63.9" width="68.0" height="3.4"/>
<rect x="593.0" y="59.8" width="52.0" height="3.4"/>
<rect x="569.5" y="43.2" width="60.5" height="3.4"/>
<rect x="587.0" y="35.6" width="62.4" height="3.4"/>
<rect x="609.0" y="42.8" width="55.0" height="3.4"/>
<rect x="624.0" y="27.8" width="54.0" height="3.4"/>
<rect x="330.0" y="133.2" width="100.1" height="3.4"/>
<rect x="388.2" y="176.1" width="71.5" height="3.4"/>
<rect x="425.6" y="170.3" width="53.0" height="3.4"/>
<rect x="455.0" y="164.8" width="68.0" height="3.4"/>
<rect x="480.7" y="158.7" width="61.5" height="3.4"/>
<rect x="503.8" y="152.8" width="47.9" height="3.4"/>
<rect x="527.6" y="146.2" width="29.9" height="3.4"/>
<rect x="558.9" y="139.3" width="74.1" height="3.4"/>
<rect x="588.0" y="131.7" width="72.0" height="3.4"/>
<rect x="624.0" y="121.6" width="49.6" height="3.4"/>
<rect x="647.3" y="131.8" width="34.7" height="3.4"/>
<rect x="662.3" y="127.8" width="26.3" height="3.4"/>
<rect x="342.7" y="159.7" width="11.1" height="3.4"/>
<rect x="325.5" y="185.9" width="18.1" height="3.4"/>
<rect x="336.7" y="195.7" width="72.2" height="3.4"/>
<rect x="320.2" y="198.6" width="9.1" height="3.4"/>
<rect x="300.2" y="208.8" width="24.3" height="3.4"/>
<rect x="318.6" y="218.5" width="50.4" height="3.4"/>
<rect x="274.4" y="232.1" width="44.3" height="3.4"/>
<rect x="307.2" y="255.7" width="112.8" height="3.4"/>
<rect x="365.4" y="248.2" width="62.6" height="3.4"/>
<rect x="400.3" y="240.6" width="60.5" height="3.4"/>
<rect x="431.6" y="234.3" width="44.4" height="3.4"/>
<rect x="452.0" y="229.8" width="26.0" height="3.4"/>
<rect x="428.0" y="246.5" width="46.8" height="3.4"/>
<rect x="388.1" y="263.4" width="57.4" height="3.4"/>
<rect x="249.8" y="252.4" width="57.2" height="3.4"/>
<rect x="225.0" y="268.5" width="69.0" height="3.4"/>
<rect x="258.8" y="284.9" width="66.2" height="3.4"/>
<rect x="386.4" y="280.8" width="85.1" height="3.4"/>
<rect x="432.4" y="281.3" width="34.6" height="3.4"/>
<rect x="202.7" y="294.4" width="78.3" height="3.4"/>
<rect x="272.3" y="319.7" width="106.7" height="3.4"/>
<rect x="344.0" y="312.4" width="95.8" height="3.4"/>
<rect x="374.7" y="307.2" width="73.0" height="3.4"/>
<rect x="401.7" y="302.1" width="60.5" height="3.4"/>
<rect x="424.0" y="296.9" width="46.0" height="3.4"/>
<rect x="438.0" y="298.8" width="28.8" height="3.4"/>
<rect x="328.2" y="325.7" width="66.0" height="3.4"/>
<rect x="171.6" y="314.3" width="84.6" height="3.4"/>
<rect x="155.0" y="389.4" width="42.5" height="3.4"/>
<rect x="141.9" y="464.1" width="63.3" height="3.4"/>
<rect x="198.7" y="452.4" width="14.9" height="3.4"/>
<rect x="206.6" y="432.2" width="78.2" height="3.4"/>
<rect x="286.0" y="411.7" width="67.8" height="3.4"/>
<rect x="427.5" y="401.3" width="54.1" height="3.4"/>
<rect x="456.2" y="392.5" width="88.6" height="3.4"/>
<rect x="479.0" y="402.5" width="39.5" height="3.4"/>
<rect x="524.5" y="382.9" width="82.6" height="3.4"/>
<rect x="555.0" y="362.0" width="64.8" height="3.4"/>
<rect x="583.1" y="371.6" width="47.9" height="3.4"/>
<rect x="601.5" y="352.4" width="65.4" height="3.4"/>
<rect x="639.8" y="347.3" width="40.2" height="3.4"/>
<rect x="666.7" y="343.1" width="41.4" height="3.4"/>
<rect x="692.2" y="343.3" width="15.9" height="3.4"/>
<rect x="630.2" y="389.1" width="42.3" height="3.4"/>
<rect x="658.9" y="388.8" width="13.6" height="3.4"/>
<rect x="258.0" y="453.7" width="54.7" height="3.4"/>
<rect x="285.6" y="439.0" width="44.4" height="3.4"/>
<rect x="303.1" y="432.1" width="49.9" height="3.4"/>
<rect x="312.0" y="428.4" width="38.0" height="3.4"/>
<rect x="307.5" y="445.3" width="21.3" height="3.4"/>
<rect x="298.8" y="456.6" width="49.0" height="3.4"/>
<rect x="169.8" y="536.5" width="102.8" height="3.4"/>
<rect x="205.2" y="528.7" width="89.0" height="3.4"/>
<rect x="253.6" y="520.8" width="63.9" height="3.4"/>
<rect x="294.2" y="514.4" width="35.3" height="3.4"/>
<rect x="286.3" y="536.2" width="45.4" height="3.4"/>
<rect x="316.6" y="535.9" width="15.1" height="3.4"/>
<rect x="367.2" y="506.3" width="114.4" height="3.4"/>
<rect x="440.4" y="499.0" width="73.1" height="3.4"/>
<rect x="467.0" y="494.6" width="47.8" height="3.4"/>
<rect x="429.7" y="512.9" width="70.5" height="3.4"/>
<rect x="471.0" y="512.9" width="29.2" height="3.4"/>
<rect x="115.1" y="533.0" width="59.6" height="3.4"/>
<rect x="224.0" y="562.4" width="89.7" height="3.4"/>
<rect x="261.1" y="557.1" width="63.5" height="3.4"/>
<rect x="290.7" y="553.6" width="41.8" height="3.4"/>
<rect x="316.3" y="553.3" width="16.2" height="3.4"/>
<rect x="94.7" y="557.4" width="69.4" height="3.4"/>
<rect x="151.4" y="581.6" width="58.7" height="3.4"/>
<rect x="188.7" y="581.6" width="21.4" height="3.4"/>
<rect x="67.6" y="574.2" width="73.6" height="3.4"/>
<rect x="44.6" y="584.8" width="63.4" height="3.4"/>
<rect x="25.6" y="607.4" width="74.6" height="3.4"/>
<rect x="116.6" y="630.6" width="78.4" height="3.4"/>
<rect x="193.9" y="631.9" width="39.9" height="3.4"/>
<rect x="202.5" y="631.7" width="22.5" height="3.4"/>
<rect x="160.6" y="617.9" width="62.3" height="3.4"/>
<rect x="173.3" y="614.0" width="58.5" height="3.4"/>
<rect x="192.4" y="608.7" width="50.0" height="3.4"/>
<rect x="214.3" y="604.4" width="51.7" height="3.4"/>
<rect x="15.8" y="632.9" width="63.9" height="3.4"/>
<rect x="18.3" y="658.5" width="91.7" height="3.4"/>
<rect x="51.2" y="653.9" width="86.2" height="3.4"/>
<rect x="94.3" y="649.8" width="67.8" height="3.4"/>
<rect x="127.8" y="652.2" width="33.5" height="3.4"/>
<rect x="11.0" y="654.9" width="25.6" height="3.4"/>
<rect x="15.8" y="676.8" width="26.6" height="3.4"/>
<rect x="27.1" y="671.7" width="68.0" height="3.4"/>
<rect x="64.4" y="672.1" width="30.7" height="3.4"/>
</clipPath></defs>
<g fill="#5c5cbc" fill-opacity="0.78">
<rect x="403.5" y="89.0" width="71.7" height="3.4"/>
<rect x="433.0" y="81.6" width="72.0" height="3.4"/>
<rect x="464.0" y="72.8" width="78.7" height="3.4"/>
<rect x="497.0" y="82.6" width="61.0" height="3.4"/>
<rect x="529.5" y="82.3" width="11.5" height="3.4"/>
<rect x="506.0" y="63.8" width="119.0" height="3.4"/>
<rect x="540.0" y="53.3" width="67.0" height="3.4"/>
<rect x="572.0" y="63.9" width="68.0" height="3.4"/>
<rect x="593.0" y="59.8" width="52.0" height="3.4"/>
<rect x="569.5" y="43.2" width="60.5" height="3.4"/>
<rect x="587.0" y="35.6" width="62.4" height="3.4"/>
<rect x="609.0" y="42.8" width="55.0" height="3.4"/>
<rect x="624.0" y="27.8" width="54.0" height="3.4"/>
<rect x="330.0" y="133.2" width="100.1" height="3.4"/>
<rect x="388.2" y="176.1" width="71.5" height="3.4"/>
<rect x="425.6" y="170.3" width="53.0" height="3.4"/>
<rect x="455.0" y="164.8" width="68.0" height="3.4"/>
<rect x="480.7" y="158.7" width="61.5" height="3.4"/>
<rect x="503.8" y="152.8" width="47.9" height="3.4"/>
<rect x="527.6" y="146.2" width="29.9" height="3.4"/>
<rect x="558.9" y="139.3" width="74.1" height="3.4"/>
<rect x="588.0" y="131.7" width="72.0" height="3.4"/>
<rect x="624.0" y="121.6" width="49.6" height="3.4"/>
<rect x="647.3" y="131.8" width="34.7" height="3.4"/>
<rect x="662.3" y="127.8" width="26.3" height="3.4"/>
<rect x="342.7" y="159.7" width="11.1" height="3.4"/>
<rect x="325.5" y="185.9" width="18.1" height="3.4"/>
<rect x="336.7" y="195.7" width="72.2" height="3.4"/>
<rect x="320.2" y="198.6" width="9.1" height="3.4"/>
<rect x="300.2" y="208.8" width="24.3" height="3.4"/>
<rect x="318.6" y="218.5" width="50.4" height="3.4"/>
<rect x="274.4" y="232.1" width="44.3" height="3.4"/>
<rect x="307.2" y="255.7" width="112.8" height="3.4"/>
<rect x="365.4" y="248.2" width="62.6" height="3.4"/>
<rect x="400.3" y="240.6" width="60.5" height="3.4"/>
<rect x="431.6" y="234.3" width="44.4" height="3.4"/>
<rect x="452.0" y="229.8" width="26.0" height="3.4"/>
<rect x="428.0" y="246.5" width="46.8" height="3.4"/>
<rect x="388.1" y="263.4" width="57.4" height="3.4"/>
<rect x="249.8" y="252.4" width="57.2" height="3.4"/>
<rect x="225.0" y="268.5" width="69.0" height="3.4"/>
<rect x="258.8" y="284.9" width="66.2" height="3.4"/>
<rect x="386.4" y="280.8" width="85.1" height="3.4"/>
<rect x="432.4" y="281.3" width="34.6" height="3.4"/>
<rect x="202.7" y="294.4" width="78.3" height="3.4"/>
<rect x="272.3" y="319.7" width="106.7" height="3.4"/>
<rect x="344.0" y="312.4" width="95.8" height="3.4"/>
<rect x="374.7" y="307.2" width="73.0" height="3.4"/>
<rect x="401.7" y="302.1" width="60.5" height="3.4"/>
<rect x="424.0" y="296.9" width="46.0" height="3.4"/>
<rect x="438.0" y="298.8" width="28.8" height="3.4"/>
<rect x="328.2" y="325.7" width="66.0" height="3.4"/>
<rect x="171.6" y="314.3" width="84.6" height="3.4"/>
<rect x="155.0" y="389.4" width="42.5" height="3.4"/>
<rect x="141.9" y="464.1" width="63.3" height="3.4"/>
<rect x="198.7" y="452.4" width="14.9" height="3.4"/>
<rect x="206.6" y="432.2" width="78.2" height="3.4"/>
<rect x="286.0" y="411.7" width="67.8" height="3.4"/>
<rect x="427.5" y="401.3" width="54.1" height="3.4"/>
<rect x="456.2" y="392.5" width="88.6" height="3.4"/>
<rect x="479.0" y="402.5" width="39.5" height="3.4"/>
<rect x="524.5" y="382.9" width="82.6" height="3.4"/>
<rect x="555.0" y="362.0" width="64.8" height="3.4"/>
<rect x="583.1" y="371.6" width="47.9" height="3.4"/>
<rect x="601.5" y="352.4" width="65.4" height="3.4"/>
<rect x="639.8" y="347.3" width="40.2" height="3.4"/>
<rect x="666.7" y="343.1" width="41.4" height="3.4"/>
<rect x="692.2" y="343.3" width="15.9" height="3.4"/>
<rect x="630.2" y="389.1" width="42.3" height="3.4"/>
<rect x="658.9" y="388.8" width="13.6" height="3.4"/>
<rect x="258.0" y="453.7" width="54.7" height="3.4"/>
<rect x="285.6" y="439.0" width="44.4" height="3.4"/>
<rect x="303.1" y="432.1" width="49.9" height="3.4"/>
<rect x="312.0" y="428.4" width="38.0" height="3.4"/>
<rect x="307.5" y="445.3" width="21.3" height="3.4"/>
<rect x="298.8" y="456.6" width="49.0" height="3.4"/>
<rect x="169.8" y="536.5" width="102.8" height="3.4"/>
<rect x="205.2" y="528.7" width="89.0" height="3.4"/>
<rect x="253.6" y="520.8" width="63.9" height="3.4"/>
<rect x="294.2" y="514.4" width="35.3" height="3.4"/>
<rect x="286.3" y="536.2" width="45.4" height="3.4"/>
<rect x="316.6" y="535.9" width="15.1" height="3.4"/>
<rect x="367.2" y="506.3" width="114.4" height="3.4"/>
<rect x="440.4" y="499.0" width="73.1" height="3.4"/>
<rect x="467.0" y="494.6" width="47.8" height="3.4"/>
<rect x="429.7" y="512.9" width="70.5" height="3.4"/>
<rect x="471.0" y="512.9" width="29.2" height="3.4"/>
<rect x="115.1" y="533.0" width="59.6" height="3.4"/>
<rect x="224.0" y="562.4" width="89.7" height="3.4"/>
<rect x="261.1" y="557.1" width="63.5" height="3.4"/>
<rect x="290.7" y="553.6" width="41.8" height="3.4"/>
<rect x="316.3" y="553.3" width="16.2" height="3.4"/>
<rect x="94.7" y="557.4" width="69.4" height="3.4"/>
<rect x="151.4" y="581.6" width="58.7" height="3.4"/>
<rect x="188.7" y="581.6" width="21.4" height="3.4"/>
<rect x="67.6" y="574.2" width="73.6" height="3.4"/>
<rect x="44.6" y="584.8" width="63.4" height="3.4"/>
<rect x="25.6" y="607.4" width="74.6" height="3.4"/>
<rect x="116.6" y="630.6" width="78.4" height="3.4"/>
<rect x="193.9" y="631.9" width="39.9" height="3.4"/>
<rect x="202.5" y="631.7" width="22.5" height="3.4"/>
<rect x="160.6" y="617.9" width="62.3" height="3.4"/>
<rect x="173.3" y="614.0" width="58.5" height="3.4"/>
<rect x="192.4" y="608.7" width="50.0" height="3.4"/>
<rect x="214.3" y="604.4" width="51.7" height="3.4"/>
<rect x="15.8" y="632.9" width="63.9" height="3.4"/>
<rect x="18.3" y="658.5" width="91.7" height="3.4"/>
<rect x="51.2" y="653.9" width="86.2" height="3.4"/>
<rect x="94.3" y="649.8" width="67.8" height="3.4"/>
<rect x="127.8" y="652.2" width="33.5" height="3.4"/>
<rect x="11.0" y="654.9" width="25.6" height="3.4"/>
<rect x="15.8" y="676.8" width="26.6" height="3.4"/>
<rect x="27.1" y="671.7" width="68.0" height="3.4"/>
<rect x="64.4" y="672.1" width="30.7" height="3.4"/>
</g>
<g stroke="#6a6a6a" stroke-width="1" fill="none">
<line x1="387.7" y1="90.7" x2="445.4" y2="90.7"/>
<line x1="445.4" y1="98.5" x2="471.5" y2="98.5"/>
<line x1="445.4" y1="83.3" x2="469.6" y2="83.3"/>
<line x1="469.6" y1="92.6" x2="486.9" y2="92.6"/>
<line x1="469.6" y1="74.5" x2="506.5" y2="74.5"/>
<line x1="506.5" y1="84.3" x2="529.4" y2="84.3"/>
<line x1="529.4" y1="81.2" x2="540.9" y2="81.2"/>
<line x1="529.4" y1="86.9" x2="603.8" y2="86.9"/>
<line x1="506.5" y1="65.5" x2="550.6" y2="65.5"/>
<line x1="550.6" y1="75.8" x2="587.6" y2="75.8"/>
<line x1="550.6" y1="55.0" x2="576.1" y2="55.0"/>
<line x1="576.1" y1="65.6" x2="606.4" y2="65.6"/>
<line x1="606.4" y1="69.9" x2="628.0" y2="69.9"/>
<line x1="606.4" y1="61.5" x2="618.6" y2="61.5"/>
<line x1="618.6" y1="58.8" x2="633.2" y2="58.8"/>
<line x1="618.6" y1="64.3" x2="634.8" y2="64.3"/>
<line x1="576.1" y1="44.9" x2="601.4" y2="44.9"/>
<line x1="601.4" y1="52.7" x2="636.9" y2="52.7"/>
<line x1="601.4" y1="37.3" x2="619.6" y2="37.3"/>
<line x1="619.6" y1="44.5" x2="636.3" y2="44.5"/>
<line x1="636.3" y1="41.6" x2="656.8" y2="41.6"/>
<line x1="636.3" y1="47.0" x2="642.5" y2="47.0"/>
<line x1="619.6" y1="29.5" x2="654.0" y2="29.5"/>
<line x1="654.0" y1="23.4" x2="688.0" y2="23.4"/>
<line x1="654.0" y1="35.5" x2="677.0" y2="35.5"/>
<line x1="387.7" y1="177.8" x2="427.6" y2="177.8"/>
<line x1="427.6" y1="183.4" x2="468.5" y2="183.4"/>
<line x1="427.6" y1="172.0" x2="455.5" y2="172.0"/>
<line x1="455.5" y1="177.7" x2="470.6" y2="177.7"/>
<line x1="455.5" y1="166.5" x2="488.3" y2="166.5"/>
<line x1="488.3" y1="172.1" x2="517.7" y2="172.1"/>
<line x1="488.3" y1="160.4" x2="514.6" y2="160.4"/>
<line x1="514.6" y1="166.5" x2="630.2" y2="166.5"/>
<line x1="514.6" y1="154.5" x2="531.6" y2="154.5"/>
<line x1="531.6" y1="160.6" x2="587.0" y2="160.6"/>
<line x1="531.6" y1="147.9" x2="547.8" y2="147.9"/>
<line x1="547.8" y1="154.8" x2="551.1" y2="154.8"/>
<line x1="547.8" y1="141.0" x2="601.0" y2="141.0"/>
<line x1="601.0" y1="149.3" x2="633.0" y2="149.3"/>
<line x1="601.0" y1="133.4" x2="633.5" y2="133.4"/>
<line x1="633.5" y1="143.5" x2="670.0" y2="143.5"/>
<line x1="633.5" y1="123.3" x2="652.7" y2="123.3"/>
<line x1="652.7" y1="112.4" x2="688.0" y2="112.4"/>
<line x1="652.7" y1="133.5" x2="668.3" y2="133.5"/>
<line x1="668.3" y1="137.9" x2="684.8" y2="137.9"/>
<line x1="668.3" y1="129.5" x2="677.2" y2="129.5"/>
<line x1="677.2" y1="126.8" x2="688.6" y2="126.8"/>
<line x1="677.2" y1="132.3" x2="684.2" y2="132.3"/>
<line x1="333.8" y1="161.4" x2="350.6" y2="161.4"/>
<line x1="350.6" y1="134.7" x2="387.7" y2="134.7"/>
<line x1="350.6" y1="188.7" x2="351.0" y2="188.7"/>
<line x1="333.8" y1="206.4" x2="361.7" y2="206.4"/>
<line x1="333.8" y1="197.4" x2="373.2" y2="197.4"/>
<line x1="373.2" y1="194.6" x2="410.4" y2="194.6"/>
<line x1="373.2" y1="200.1" x2="464.3" y2="200.1"/>
<line x1="316.0" y1="200.3" x2="325.3" y2="200.3"/>
<line x1="325.3" y1="188.3" x2="333.8" y2="188.3"/>
<line x1="325.3" y1="211.7" x2="325.6" y2="211.7"/>
<line x1="300.2" y1="210.5" x2="316.0" y2="210.5"/>
<line x1="316.0" y1="220.2" x2="345.3" y2="220.2"/>
<line x1="345.3" y1="217.2" x2="358.4" y2="217.2"/>
<line x1="345.3" y1="222.9" x2="367.5" y2="222.9"/>
<line x1="283.4" y1="233.8" x2="300.2" y2="233.8"/>
<line x1="300.2" y1="257.4" x2="373.7" y2="257.4"/>
<line x1="373.7" y1="249.9" x2="414.3" y2="249.9"/>
<line x1="414.3" y1="257.3" x2="497.9" y2="257.3"/>
<line x1="414.3" y1="242.3" x2="434.6" y2="242.3"/>
<line x1="434.6" y1="236.0" x2="453.5" y2="236.0"/>
<line x1="453.5" y1="239.6" x2="473.2" y2="239.6"/>
<line x1="453.5" y1="231.7" x2="464.4" y2="231.7"/>
<line x1="464.4" y1="229.0" x2="476.4" y2="229.0"/>
<line x1="464.4" y1="234.3" x2="469.7" y2="234.3"/>
<line x1="434.6" y1="247.6" x2="453.5" y2="247.6"/>
<line x1="453.5" y1="245.9" x2="466.1" y2="245.9"/>
<line x1="453.5" y1="250.9" x2="466.5" y2="250.9"/>
<line x1="373.7" y1="265.1" x2="416.9" y2="265.1"/>
<line x1="416.9" y1="262.6" x2="467.5" y2="262.6"/>
<line x1="416.9" y1="268.2" x2="423.6" y2="268.2"/>
<line x1="261.8" y1="254.1" x2="283.4" y2="254.1"/>
<line x1="283.4" y1="273.7" x2="360.0" y2="273.7"/>
<line x1="243.7" y1="270.2" x2="261.8" y2="270.2"/>
<line x1="261.8" y1="286.6" x2="297.6" y2="286.6"/>
<line x1="297.6" y1="290.7" x2="325.3" y2="290.7"/>
<line x1="297.6" y1="282.5" x2="432.4" y2="282.5"/>
<line x1="432.4" y1="279.8" x2="451.0" y2="279.8"/>
<line x1="432.4" y1="285.6" x2="467.6" y2="285.6"/>
<line x1="209.6" y1="296.1" x2="243.7" y2="296.1"/>
<line x1="243.7" y1="321.4" x2="334.2" y2="321.4"/>
<line x1="334.2" y1="314.1" x2="396.1" y2="314.1"/>
<line x1="396.1" y1="319.3" x2="466.6" y2="319.3"/>
<line x1="396.1" y1="308.9" x2="416.9" y2="308.9"/>
<line x1="416.9" y1="314.1" x2="466.6" y2="314.1"/>
<line x1="416.9" y1="303.8" x2="437.6" y2="303.8"/>
<line x1="437.6" y1="307.9" x2="497.9" y2="307.9"/>
<line x1="437.6" y1="298.6" x2="450.1" y2="298.6"/>
<line x1="450.1" y1="296.8" x2="469.8" y2="296.8"/>
<line x1="450.1" y1="302.1" x2="466.0" y2="302.1"/>
<line x1="334.2" y1="327.4" x2="365.4" y2="327.4"/>
<line x1="365.4" y1="325.1" x2="377.5" y2="325.1"/>
<line x1="365.4" y1="330.3" x2="385.3" y2="330.3"/>
<line x1="209.6" y1="336.2" x2="329.0" y2="336.2"/>
<line x1="177.2" y1="316.0" x2="209.6" y2="316.0"/>
<line x1="168.0" y1="391.1" x2="177.3" y2="391.1"/>
<line x1="147.3" y1="465.8" x2="168.0" y2="465.8"/>
<line x1="177.3" y1="465.8" x2="194.6" y2="465.8"/>
<line x1="194.6" y1="477.9" x2="195.0" y2="477.9"/>
<line x1="194.6" y1="454.1" x2="209.3" y2="454.1"/>
<line x1="209.3" y1="472.7" x2="209.6" y2="472.7"/>
<line x1="209.3" y1="433.9" x2="240.2" y2="433.9"/>
<line x1="240.2" y1="413.4" x2="325.9" y2="413.4"/>
<line x1="325.9" y1="415.6" x2="368.4" y2="415.6"/>
<line x1="325.9" y1="421.6" x2="345.8" y2="421.6"/>
<line x1="325.9" y1="403.0" x2="479.0" y2="403.0"/>
<line x1="479.0" y1="410.5" x2="498.6" y2="410.5"/>
<line x1="479.0" y1="394.2" x2="504.1" y2="394.2"/>
<line x1="504.1" y1="404.2" x2="512.5" y2="404.2"/>
<line x1="504.1" y1="384.6" x2="568.8" y2="384.6"/>
<line x1="568.8" y1="398.8" x2="690.2" y2="398.8"/>
<line x1="568.8" y1="363.7" x2="591.6" y2="363.7"/>
<line x1="591.6" y1="373.3" x2="607.9" y2="373.3"/>
<line x1="607.9" y1="364.5" x2="639.8" y2="364.5"/>
<line x1="607.9" y1="370.4" x2="637.9" y2="370.4"/>
<line x1="607.9" y1="376.8" x2="640.1" y2="376.8"/>
<line x1="607.9" y1="382.1" x2="635.8" y2="382.1"/>
<line x1="591.6" y1="354.1" x2="639.8" y2="354.1"/>
<line x1="639.8" y1="358.9" x2="665.0" y2="358.9"/>
<line x1="639.8" y1="348.6" x2="666.1" y2="348.6"/>
<line x1="666.1" y1="352.7" x2="683.8" y2="352.7"/>
<line x1="666.1" y1="344.8" x2="692.2" y2="344.8"/>
<line x1="692.2" y1="342.2" x2="708.1" y2="342.2"/>
<line x1="692.2" y1="347.6" x2="708.6" y2="347.6"/>
<line x1="568.8" y1="390.8" x2="658.9" y2="390.8"/>
<line x1="658.9" y1="387.3" x2="669.3" y2="387.3"/>
<line x1="658.9" y1="393.2" x2="666.1" y2="393.2"/>
<line x1="240.2" y1="455.4" x2="286.3" y2="455.4"/>
<line x1="286.3" y1="467.1" x2="344.6" y2="467.1"/>
<line x1="286.3" y1="440.7" x2="308.6" y2="440.7"/>
<line x1="308.6" y1="433.8" x2="323.5" y2="433.8"/>
<line x1="323.5" y1="439.1" x2="343.2" y2="439.1"/>
<line x1="323.5" y1="430.1" x2="332.0" y2="430.1"/>
<line x1="332.0" y1="427.4" x2="344.5" y2="427.4"/>
<line x1="332.0" y1="433.0" x2="346.2" y2="433.0"/>
<line x1="308.6" y1="447.0" x2="324.4" y2="447.0"/>
<line x1="324.4" y1="444.4" x2="326.1" y2="444.4"/>
<line x1="324.4" y1="450.2" x2="338.3" y2="450.2"/>
<line x1="286.3" y1="458.3" x2="331.7" y2="458.3"/>
<line x1="331.7" y1="455.4" x2="342.2" y2="455.4"/>
<line x1="331.7" y1="461.2" x2="346.3" y2="461.2"/>
<line x1="168.0" y1="538.2" x2="224.2" y2="538.2"/>
<line x1="224.2" y1="546.2" x2="360.2" y2="546.2"/>
<line x1="224.2" y1="530.4" x2="255.3" y2="530.4"/>
<line x1="255.3" y1="522.5" x2="289.0" y2="522.5"/>
<line x1="289.0" y1="529.6" x2="306.7" y2="529.6"/>
<line x1="289.0" y1="516.1" x2="322.4" y2="516.1"/>
<line x1="322.4" y1="522.8" x2="325.4" y2="522.8"/>
<line x1="255.3" y1="537.9" x2="316.6" y2="537.9"/>
<line x1="316.6" y1="534.9" x2="331.7" y2="534.9"/>
<line x1="316.6" y1="540.6" x2="331.0" y2="540.6"/>
<line x1="322.4" y1="508.0" x2="438.5" y2="508.0"/>
<line x1="438.5" y1="500.7" x2="482.1" y2="500.7"/>
<line x1="482.1" y1="506.4" x2="567.9" y2="506.4"/>
<line x1="482.1" y1="496.5" x2="496.2" y2="496.5"/>
<line x1="496.2" y1="500.7" x2="504.2" y2="500.7"/>
<line x1="496.2" y1="491.2" x2="688.0" y2="491.2"/>
<line x1="438.5" y1="514.6" x2="471.0" y2="514.6"/>
<line x1="471.0" y1="511.9" x2="484.8" y2="511.9"/>
<line x1="471.0" y1="517.8" x2="490.9" y2="517.8"/>
<line x1="130.0" y1="534.7" x2="147.3" y2="534.7"/>
<line x1="147.3" y1="564.1" x2="278.0" y2="564.1"/>
<line x1="147.3" y1="574.6" x2="227.4" y2="574.6"/>
<line x1="278.0" y1="568.9" x2="328.6" y2="568.9"/>
<line x1="278.0" y1="558.8" x2="298.7" y2="558.8"/>
<line x1="298.7" y1="563.0" x2="365.7" y2="563.0"/>
<line x1="298.7" y1="555.3" x2="316.3" y2="555.3"/>
<line x1="316.3" y1="551.6" x2="344.4" y2="551.6"/>
<line x1="316.3" y1="557.7" x2="331.0" y2="557.7"/>
<line x1="106.3" y1="559.1" x2="130.0" y2="559.1"/>
<line x1="130.0" y1="583.3" x2="188.7" y2="583.3"/>
<line x1="188.7" y1="579.6" x2="221.0" y2="579.6"/>
<line x1="188.7" y1="585.5" x2="209.5" y2="585.5"/>
<line x1="79.7" y1="575.9" x2="106.3" y2="575.9"/>
<line x1="106.3" y1="591.3" x2="198.4" y2="591.3"/>
<line x1="67.2" y1="586.5" x2="79.7" y2="586.5"/>
<line x1="79.7" y1="597.4" x2="104.2" y2="597.4"/>
<line x1="42.4" y1="609.1" x2="67.2" y2="609.1"/>
<line x1="67.2" y1="632.3" x2="160.0" y2="632.3"/>
<line x1="160.0" y1="642.6" x2="188.8" y2="642.6"/>
<line x1="160.0" y1="633.6" x2="202.5" y2="633.6"/>
<line x1="202.5" y1="631.2" x2="226.1" y2="631.2"/>
<line x1="202.5" y1="636.9" x2="219.4" y2="636.9"/>
<line x1="160.0" y1="619.6" x2="195.6" y2="619.6"/>
<line x1="195.6" y1="626.0" x2="226.0" y2="626.0"/>
<line x1="195.6" y1="615.7" x2="206.8" y2="615.7"/>
<line x1="206.8" y1="620.3" x2="497.4" y2="620.3"/>
<line x1="206.8" y1="610.4" x2="218.5" y2="610.4"/>
<line x1="218.5" y1="614.9" x2="231.8" y2="614.9"/>
<line x1="218.5" y1="606.1" x2="241.9" y2="606.1"/>
<line x1="241.9" y1="603.2" x2="260.3" y2="603.2"/>
<line x1="241.9" y1="609.3" x2="356.1" y2="609.3"/>
<line x1="16.1" y1="634.6" x2="42.4" y2="634.6"/>
<line x1="42.4" y1="660.2" x2="65.7" y2="660.2"/>
<line x1="65.7" y1="665.2" x2="209.3" y2="665.2"/>
<line x1="65.7" y1="655.6" x2="97.5" y2="655.6"/>
<line x1="97.5" y1="659.8" x2="145.4" y2="659.8"/>
<line x1="97.5" y1="651.5" x2="127.8" y2="651.5"/>
<line x1="127.8" y1="648.6" x2="147.0" y2="648.6"/>
<line x1="127.8" y1="653.9" x2="159.7" y2="653.9"/>
<line x1="11.0" y1="656.6" x2="16.1" y2="656.6"/>
<line x1="16.1" y1="678.5" x2="24.1" y2="678.5"/>
<line x1="24.1" y1="682.2" x2="39.2" y2="682.2"/>
<line x1="24.1" y1="673.4" x2="64.4" y2="673.4"/>
<line x1="64.4" y1="671.5" x2="94.4" y2="671.5"/>
<line x1="64.4" y1="676.3" x2="94.4" y2="676.3"/>
<line x1="387.7" y1="90.7" x2="387.7" y2="177.8"/>
<line x1="445.4" y1="83.3" x2="445.4" y2="98.5"/>
<line x1="469.6" y1="74.3" x2="469.6" y2="92.6"/>
<line x1="506.5" y1="65.5" x2="506.5" y2="84.3"/>
<line x1="529.4" y1="81.2" x2="529.4" y2="86.9"/>
<line x1="550.6" y1="55.0" x2="550.6" y2="75.8"/>
<line x1="576.1" y1="44.9" x2="576.1" y2="65.6"/>
<line x1="606.4" y1="61.5" x2="606.4" y2="69.9"/>
<line x1="618.6" y1="58.8" x2="618.6" y2="64.3"/>
<line x1="601.4" y1="37.3" x2="601.4" y2="52.7"/>
<line x1="619.6" y1="29.5" x2="619.6" y2="44.5"/>
<line x1="636.3" y1="41.6" x2="636.3" y2="47.0"/>
<line x1="654.0" y1="23.4" x2="654.0" y2="35.5"/>
<line x1="427.6" y1="172.0" x2="427.6" y2="183.4"/>
<line x1="455.5" y1="166.5" x2="455.5" y2="177.7"/>
<line x1="488.3" y1="160.4" x2="488.3" y2="172.1"/>
<line x1="514.6" y1="154.5" x2="514.6" y2="166.5"/>
<line x1="531.6" y1="147.9" x2="531.6" y2="160.6"/>
<line x1="547.8" y1="141.0" x2="547.8" y2="154.8"/>
<line x1="601.0" y1="133.4" x2="601.0" y2="149.3"/>
<line x1="633.5" y1="123.3" x2="633.5" y2="143.5"/>
<line x1="652.7" y1="112.4" x2="652.7" y2="133.5"/>
<line x1="668.3" y1="129.5" x2="668.3" y2="137.9"/>
<line x1="677.2" y1="126.8" x2="677.2" y2="132.3"/>
<line x1="350.6" y1="134.7" x2="350.6" y2="188.7"/>
<line x1="333.8" y1="161.4" x2="333.8" y2="206.4"/>
<line x1="373.2" y1="194.6" x2="373.2" y2="200.1"/>
<line x1="325.3" y1="188.3" x2="325.3" y2="211.7"/>
<line x1="316.0" y1="200.3" x2="316.0" y2="220.2"/>
<line x1="345.3" y1="217.2" x2="345.3" y2="222.9"/>
<line x1="300.2" y1="210.5" x2="300.2" y2="257.3"/>
<line x1="373.7" y1="249.9" x2="373.7" y2="265.1"/>
<line x1="414.3" y1="242.3" x2="414.3" y2="257.3"/>
<line x1="434.6" y1="236.0" x2="434.6" y2="247.6"/>
<line x1="453.5" y1="231.7" x2="453.5" y2="239.6"/>
<line x1="464.4" y1="229.0" x2="464.4" y2="234.3"/>
<line x1="453.5" y1="245.9" x2="453.5" y2="250.9"/>
<line x1="416.9" y1="262.6" x2="416.9" y2="268.2"/>
<line x1="283.4" y1="233.8" x2="283.4" y2="273.7"/>
<line x1="261.8" y1="254.1" x2="261.8" y2="286.6"/>
<line x1="297.6" y1="282.5" x2="297.6" y2="290.7"/>
<line x1="432.4" y1="279.8" x2="432.4" y2="285.6"/>
<line x1="243.7" y1="270.2" x2="243.7" y2="321.4"/>
<line x1="334.2" y1="314.1" x2="334.2" y2="327.4"/>
<line x1="396.1" y1="308.9" x2="396.1" y2="319.3"/>
<line x1="416.9" y1="303.8" x2="416.9" y2="314.1"/>
<line x1="437.6" y1="298.6" x2="437.6" y2="307.9"/>
<line x1="450.1" y1="296.8" x2="450.1" y2="302.1"/>
<line x1="365.4" y1="325.1" x2="365.4" y2="330.3"/>
<line x1="209.6" y1="296.1" x2="209.6" y2="336.2"/>
<line x1="177.3" y1="316.0" x2="177.3" y2="465.8"/>
<line x1="168.0" y1="391.1" x2="168.0" y2="538.2"/>
<line x1="194.6" y1="454.1" x2="194.6" y2="477.9"/>
<line x1="209.3" y1="433.9" x2="209.3" y2="472.7"/>
<line x1="240.2" y1="413.4" x2="240.2" y2="455.4"/>
<line x1="325.9" y1="403.0" x2="325.9" y2="421.6"/>
<line x1="479.0" y1="394.2" x2="479.0" y2="410.5"/>
<line x1="504.1" y1="384.6" x2="504.1" y2="404.2"/>
<line x1="568.8" y1="363.7" x2="568.8" y2="398.8"/>
<line x1="591.6" y1="354.1" x2="591.6" y2="373.3"/>
<line x1="607.9" y1="364.5" x2="607.9" y2="382.1"/>
<line x1="639.8" y1="348.6" x2="639.8" y2="358.9"/>
<line x1="666.1" y1="344.8" x2="666.1" y2="352.7"/>
<line x1="692.2" y1="342.2" x2="692.2" y2="347.6"/>
<line x1="658.9" y1="387.3" x2="658.9" y2="393.2"/>
<line x1="286.3" y1="440.7" x2="286.3" y2="467.1"/>
<line x1="308.6" y1="433.8" x2="308.6" y2="447.0"/>
<line x1="323.5" y1="430.1" x2="323.5" y2="439.1"/>
<line x1="332.0" y1="427.4" x2="332.0" y2="433.0"/>
<line x1="324.4" y1="444.4" x2="324.4" y2="450.2"/>
<line x1="331.7" y1="455.4" x2="331.7" y2="461.2"/>
<line x1="224.2" y1="530.4" x2="224.2" y2="546.2"/>
<line x1="255.3" y1="522.5" x2="255.3" y2="537.9"/>
<line x1="289.0" y1="516.1" x2="289.0" y2="529.6"/>
<line x1="322.4" y1="508.0" x2="322.4" y2="522.8"/>
<line x1="316.6" y1="534.9" x2="316.6" y2="540.6"/>
<line x1="438.5" y1="500.7" x2="438.5" y2="514.6"/>
<line x1="482.1" y1="496.5" x2="482.1" y2="506.4"/>
<line x1="496.2" y1="491.2" x2="496.2" y2="500.7"/>
<line x1="471.0" y1="511.9" x2="471.0" y2="517.8"/>
<line x1="147.3" y1="465.8" x2="147.3" y2="574.6"/>
<line x1="278.0" y1="558.8" x2="278.0" y2="568.9"/>
<line x1="298.7" y1="555.3" x2="298.7" y2="563.0"/>
<line x1="316.3" y1="551.6" x2="316.3" y2="557.7"/>
<line x1="130.0" y1="534.7" x2="130.0" y2="583.3"/>
<line x1="188.7" y1="579.6" x2="188.7" y2="585.5"/>
<line x1="106.3" y1="559.1" x2="106.3" y2="591.3"/>
<line x1="79.7" y1="575.9" x2="79.7" y2="597.4"/>
<line x1="67.2" y1="586.5" x2="67.2" y2="632.3"/>
<line x1="160.0" y1="619.6" x2="160.0" y2="642.6"/>
<line x1="202.5" y1="631.2" x2="202.5" y2="636.9"/>
<line x1="195.6" y1="615.7" x2="195.6" y2="626.0"/>
<line x1="206.8" y1="610.4" x2="206.8" y2="620.5"/>
<line x1="218.5" y1="606.1" x2="218.5" y2="614.9"/>
<line x1="241.9" y1="603.2" x2="241.9" y2="609.3"/>
<line x1="42.4" y1="609.1" x2="42.4" y2="660.2"/>
<line x1="65.7" y1="655.6" x2="65.7" y2="665.2"/>
<line x1="97.5" y1="651.5" x2="97.5" y2="659.8"/>
<line x1="127.8" y1="648.6" x2="127.8" y2="653.9"/>
<line x1="16.1" y1="634.6" x2="16.1" y2="678.5"/>
<line x1="24.1" y1="673.4" x2="24.1" y2="682.2"/>
<line x1="64.4" y1="671.5" x2="64.4" y2="676.3"/>
</g>
<g stroke="#383899" stroke-width="1.9" fill="none" clip-path="url(#bc)">
<line x1="387.7" y1="90.7" x2="445.4" y2="90.7"/>
<line x1="445.4" y1="98.5" x2="471.5" y2="98.5"/>
<line x1="445.4" y1="83.3" x2="469.6" y2="83.3"/>
<line x1="469.6" y1="92.6" x2="486.9" y2="92.6"/>
<line x1="469.6" y1="74.5" x2="506.5" y2="74.5"/>
<line x1="506.5" y1="84.3" x2="529.4" y2="84.3"/>
<line x1="529.4" y1="81.2" x2="540.9" y2="81.2"/>
<line x1="529.4" y1="86.9" x2="603.8" y2="86.9"/>
<line x1="506.5" y1="65.5" x2="550.6" y2="65.5"/>
<line x1="550.6" y1="75.8" x2="587.6" y2="75.8"/>
<line x1="550.6" y1="55.0" x2="576.1" y2="55.0"/>
<line x1="576.1" y1="65.6" x2="606.4" y2="65.6"/>
<line x1="606.4" y1="69.9" x2="628.0" y2="69.9"/>
<line x1="606.4" y1="61.5" x2="618.6" y2="61.5"/>
<line x1="618.6" y1="58.8" x2="633.2" y2="58.8"/>
<line x1="618.6" y1="64.3" x2="634.8" y2="64.3"/>
<line x1="576.1" y1="44.9" x2="601.4" y2="44.9"/>
<line x1="601.4" y1="52.7" x2="636.9" y2="52.7"/>
<line x1="601.4" y1="37.3" x2="619.6" y2="37.3"/>
<line x1="619.6" y1="44.5" x2="636.3" y2="44.5"/>
<line x1="636.3" y1="41.6" x2="656.8" y2="41.6"/>
<line x1="636.3" y1="47.0" x2="642.5" y2="47.0"/>
<line x1="619.6" y1="29.5" x2="654.0" y2="29.5"/>
<line x1="654.0" y1="23.4" x2="688.0" y2="23.4"/>
<line x1="654.0" y1="35.5" x2="677.0" y2="35.5"/>
<line x1="387.7" y1="177.8" x2="427.6" y2="177.8"/>
<line x1="427.6" y1="183.4" x2="468.5" y2="183.4"/>
<line x1="427.6" y1="172.0" x2="455.5" y2="172.0"/>
<line x1="455.5" y1="177.7" x2="470.6" y2="177.7"/>
<line x1="455.5" y1="166.5" x2="488.3" y2="166.5"/>
<line x1="488.3" y1="172.1" x2="517.7" y2="172.1"/>
<line x1="488.3" y1="160.4" x2="514.6" y2="160.4"/>
<line x1="514.6" y1="166.5" x2="630.2" y2="166.5"/>
<line x1="514.6" y1="154.5" x2="531.6" y2="154.5"/>
<line x1="531.6" y1="160.6" x2="587.0" y2="160.6"/>
<line x1="531.6" y1="147.9" x2="547.8" y2="147.9"/>
<line x1="547.8" y1="154.8" x2="551.1" y2="154.8"/>
<line x1="547.8" y1="141.0" x2="601.0" y2="141.0"/>
<line x1="601.0" y1="149.3" x2="633.0" y2="149.3"/>
<line x1="601.0" y1="133.4" x2="633.5" y2="133.4"/>
<line x1="633.5" y1="143.5" x2="670.0" y2="143.5"/>
<line x1="633.5" y1="123.3" x2="652.7" y2="123.3"/>
<line x1="652.7" y1="112.4" x2="688.0" y2="112.4"/>
<line x1="652.7" y1="133.5" x2="668.3" y2="133.5"/>
<line x1="668.3" y1="137.9" x2="684.8" y2="137.9"/>
<line x1="668.3" y1="129.5" x2="677.2" y2="129.5"/>
<line x1="677.2" y1="126.8" x2="688.6" y2="126.8"/>
<line x1="677.2" y1="132.3" x2="684.2" y2="132.3"/>
<line x1="333.8" y1="161.4" x2="350.6" y2="161.4"/>
<line x1="350.6" y1="134.7" x2="387.7" y2="134.7"/>
<line x1="350.6" y1="188.7" x2="351.0" y2="188.7"/>
<line x1="333.8" y1="206.4" x2="361.7" y2="206.4"/>
<line x1="333.8" y1="197.4" x2="373.2" y2="197.4"/>
<line x1="373.2" y1="194.6" x2="410.4" y2="194.6"/>
<line x1="373.2" y1="200.1" x2="464.3" y2="200.1"/>
<line x1="316.0" y1="200.3" x2="325.3" y2="200.3"/>
<line x1="325.3" y1="188.3" x2="333.8" y2="188.3"/>
<line x1="325.3" y1="211.7" x2="325.6" y2="211.7"/>
<line x1="300.2" y1="210.5" x2="316.0" y2="210.5"/>
<line x1="316.0" y1="220.2" x2="345.3" y2="220.2"/>
<line x1="345.3" y1="217.2" x2="358.4" y2="217.2"/>
<line x1="345.3" y1="222.9" x2="367.5" y2="222.9"/>
<line x1="283.4" y1="233.8" x2="300.2" y2="233.8"/>
<line x1="300.2" y1="257.4" x2="373.7" y2="257.4"/>
<line x1="373.7" y1="249.9" x2="414.3" y2="249.9"/>
<line x1="414.3" y1="257.3" x2="497.9" y2="257.3"/>
<line x1="414.3" y1="242.3" x2="434.6" y2="242.3"/>
<line x1="434.6" y1="236.0" x2="453.5" y2="236.0"/>
<line x1="453.5" y1="239.6" x2="473.2" y2="239.6"/>
<line x1="453.5" y1="231.7" x2="464.4" y2="231.7"/>
<line x1="464.4" y1="229.0" x2="476.4" y2="229.0"/>
<line x1="464.4" y1="234.3" x2="469.7" y2="234.3"/>
<line x1="434.6" y1="247.6" x2="453.5" y2="247.6"/>
<line x1="453.5" y1="245.9" x2="466.1" y2="245.9"/>
<line x1="453.5" y1="250.9" x2="466.5" y2="250.9"/>
<line x1="373.7" y1="265.1" x2="416.9" y2="265.1"/>
<line x1="416.9" y1="262.6" x2="467.5" y2="262.6"/>
<line x1="416.9" y1="268.2" x2="423.6" y2="268.2"/>
<line x1="261.8" y1="254.1" x2="283.4" y2="254.1"/>
<line x1="283.4" y1="273.7" x2="360.0" y2="273.7"/>
<line x1="243.7" y1="270.2" x2="261.8" y2="270.2"/>
<line x1="261.8" y1="286.6" x2="297.6" y2="286.6"/>
<line x1="297.6" y1="290.7" x2="325.3" y2="290.7"/>
<line x1="297.6" y1="282.5" x2="432.4" y2="282.5"/>
<line x1="432.4" y1="279.8" x2="451.0" y2="279.8"/>
<line x1="432.4" y1="285.6" x2="467.6" y2="285.6"/>
<line x1="209.6" y1="296.1" x2="243.7" y2="296.1"/>
<line x1="243.7" y1="321.4" x2="334.2" y2="321.4"/>
<line x1="334.2" y1="314.1" x2="396.1" y2="314.1"/>
<line x1="396.1" y1="319.3" x2="466.6" y2="319.3"/>
<line x1="396.1" y1="308.9" x2="416.9" y2="308.9"/>
<line x1="416.9" y1="314.1" x2="466.6" y2="314.1"/>
<line x1="416.9" y1="303.8" x2="437.6" y2="303.8"/>
<line x1="437.6" y1="307.9" x2="497.9" y2="307.9"/>
<line x1="437.6" y1="298.6" x2="450.1" y2="298.6"/>
<line x1="450.1" y1="296.8" x2="469.8" y2="296.8"/>
<line x1="450.1" y1="302.1" x2="466.0" y2="302.1"/>
<line x1="334.2" y1="327.4" x2="365.4" y2="327.4"/>
<line x1="365.4" y1="325.1" x2="377.5" y2="325.1"/>
<line x1="365.4" y1="330.3" x2="385.3" y2="330.3"/>
<line x1="209.6" y1="336.2" x2="329.0" y2="336.2"/>
<line x1="177.2" y1="316.0" x2="209.6" y2="316.0"/>
<line x1="168.0" y1="391.1" x2="177.3" y2="391.1"/>
<line x1="147.3" y1="465.8" x2="168.0" y2="465.8"/>
<line x1="177.3" y1="465.8" x2="194.6" y2="465.8"/>
<line x1="194.6" y1="477.9" x2="195.0" y2="477.9"/>
<line x1="194.6" y1="454.1" x2="209.3" y2="454.1"/>
<line x1="209.3" y1="472.7" x2="209.6" y2="472.7"/>
<line x1="209.3" y1="433.9" x2="240.2" y2="433.9"/>
<line x1="240.2" y1="413.4" x2="325.9" y2="413.4"/>
<line x1="325.9" y1="415.6" x2="368.4" y2="415.6"/>
<line x1="325.9" y1="421.6" x2="345.8" y2="421.6"/>
<line x1="325.9" y1="403.0" x2="479.0" y2="403.0"/>
<line x1="479.0" y1="410.5" x2="498.6" y2="410.5"/>
<line x1="479.0" y1="394.2" x2="504.1" y2="394.2"/>
<line x1="504.1" y1="404.2" x2="512.5" y2="404.2"/>
<line x1="504.1" y1="384.6" x2="568.8" y2="384.6"/>
<line x1="568.8" y1="398.8" x2="690.2" y2="398.8"/>
<line x1="568.8" y1="363.7" x2="591.6" y2="363.7"/>
<line x1="591.6" y1="373.3" x2="607.9" y2="373.3"/>
<line x1="607.9" y1="364.5" x2="639.8" y2="364.5"/>
<line x1="607.9" y1="370.4" x2="637.9" y2="370.4"/>
<line x1="607.9" y1="376.8" x2="640.1" y2="376.8"/>
<line x1="607.9" y1="382.1" x2="635.8" y2="382.1"/>
<line x1="591.6" y1="354.1" x2="639.8" y2="354.1"/>
<line x1="639.8" y1="358.9" x2="665.0" y2="358.9"/>
<line x1="639.8" y1="348.6" x2="666.1" y2="348.6"/>
<line x1="666.1" y1="352.7" x2="683.8" y2="352.7"/>
<line x1="666.1" y1="344.8" x2="692.2" y2="344.8"/>
<line x1="692.2" y1="342.2" x2="708.1" y2="342.2"/>
<line x1="692.2" y1="347.6" x2="708.6" y2="347.6"/>
<line x1="568.8" y1="390.8" x2="658.9" y2="390.8"/>
<line x1="658.9" y1="387.3" x2="669.3" y2="387.3"/>
<line x1="658.9" y1="393.2" x2="666.1" y2="393.2"/>
<line x1="240.2" y1="455.4" x2="286.3" y2="455.4"/>
<line x1="286.3" y1="467.1" x2="344.6" y2="467.1"/>
<line x1="286.3" y1="440.7" x2="308.6" y2="440.7"/>
<line x1="308.6" y1="433.8" x2="323.5" y2="433.8"/>
<line x1="323.5" y1="439.1" x2="343.2" y2="439.1"/>
<line x1="323.5" y1="430.1" x2="332.0" y2="430.1"/>
<line x1="332.0" y1="427.4" x2="344.5" y2="427.4"/>
<line x1="332.0" y1="433.0" x2="346.2" y2="433.0"/>
<line x1="308.6" y1="447.0" x2="324.4" y2="447.0"/>
<line x1="324.4" y1="444.4" x2="326.1" y2="444.4"/>
<line x1="324.4" y1="450.2" x2="338.3" y2="450.2"/>
<line x1="286.3" y1="458.3" x2="331.7" y2="458.3"/>
<line x1="331.7" y1="455.4" x2="342.2" y2="455.4"/>
<line x1="331.7" y1="461.2" x2="346.3" y2="461.2"/>
<line x1="168.0" y1="538.2" x2="224.2" y2="538.2"/>
<line x1="224.2" y1="546.2" x2="360.2" y2="546.2"/>
<line x1="224.2" y1="530.4" x2="255.3" y2="530.4"/>
<line x1="255.3" y1="522.5" x2="289.0" y2="522.5"/>
<line x1="289.0" y1="529.6" x2="306.7" y2="529.6"/>
<line x1="289.0" y1="516.1" x2="322.4" y2="516.1"/>
<line x1="322.4" y1="522.8" x2="325.4" y2="522.8"/>
<line x1="255.3" y1="537.9" x2="316.6" y2="537.9"/>
<line x1="316.6" y1="534.9" x2="331.7" y2="534.9"/>
<line x1="316.6" y1="540.6" x2="331.0" y2="540.6"/>
<line x1="322.4" y1="508.0" x2="438.5" y2="508.0"/>
<line x1="438.5" y1="500.7" x2="482.1" y2="500.7"/>
<line x1="482.1" y1="506.4" x2="567.9" y2="506.4"/>
<line x1="482.1" y1="496.5" x2="496.2" y2="496.5"/>
<line x1="496.2" y1="500.7" x2="504.2" y2="500.7"/>
<line x1="496.2" y1="491.2" x2="688.0" y2="491.2"/>
<line x1="438.5" y1="514.6" x2="471.0" y2="514.6"/>
<line x1="471.0" y1="511.9" x2="484.8" y2="511.9"/>
<line x1="471.0" y1="517.8" x2="490.9" y2="517.8"/>
<line x1="130.0" y1="534.7" x2="147.3" y2="534.7"/>
<line x1="147.3" y1="564.1" x2="278.0" y2="564.1"/>
<line x1="147.3" y1="574.6" x2="227.4" y2="574.6"/>
<line x1="278.0" y1="568.9" x2="328.6" y2="568.9"/>
<line x1="278.0" y1="558.8" x2="298.7" y2="558.8"/>
<line x1="298.7" y1="563.0" x2="365.7" y2="563.0"/>
<line x1="298.7" y1="555.3" x2="316.3" y2="555.3"/>
<line x1="316.3" y1="551.6" x2="344.4" y2="551.6"/>
<line x1="316.3" y1="557.7" x2="331.0" y2="557.7"/>
<line x1="106.3" y1="559.1" x2="130.0" y2="559.1"/>
<line x1="130.0" y1="583.3" x2="188.7" y2="583.3"/>
<line x1="188.7" y1="579.6" x2="221.0" y2="579.6"/>
<line x1="188.7" y1="585.5" x2="209.5" y2="585.5"/>
<line x1="79.7" y1="575.9" x2="106.3" y2="575.9"/>
<line x1="106.3" y1="591.3" x2="198.4" y2="591.3"/>
<line x1="67.2" y1="586.5" x2="79.7" y2="586.5"/>
<line x1="79.7" y1="597.4" x2="104.2" y2="597.4"/>
<line x1="42.4" y1="609.1" x2="67.2" y2="609.1"/>
<line x1="67.2" y1="632.3" x2="160.0" y2="632.3"/>
<line x1="160.0" y1="642.6" x2="188.8" y2="642.6"/>
<line x1="160.0" y1="633.6" x2="202.5" y2="633.6"/>
<line x1="202.5" y1="631.2" x2="226.1" y2="631.2"/>
<line x1="202.5" y1="636.9" x2="219.4" y2="636.9"/>
<line x1="160.0" y1="619.6" x2="195.6" y2="619.6"/>
<line x1="195.6" y1="626.0" x2="226.0" y2="626.0"/>
<line x1="195.6" y1="615.7" x2="206.8" y2="615.7"/>
<line x1="206.8" y1="620.3" x2="497.4" y2="620.3"/>
<line x1="206.8" y1="610.4" x2="218.5" y2="610.4"/>
<line x1="218.5" y1="614.9" x2="231.8" y2="614.9"/>
<line x1="218.5" y1="606.1" x2="241.9" y2="606.1"/>
<line x1="241.9" y1="603.2" x2="260.3" y2="603.2"/>
<line x1="241.9" y1="609.3" x2="356.1" y2="609.3"/>
<line x1="16.1" y1="634.6" x2="42.4" y2="634.6"/>
<line x1="42.4" y1="660.2" x2="65.7" y2="660.2"/>
<line x1="65.7" y1="665.2" x2="209.3" y2="665.2"/>
<line x1="65.7" y1="655.6" x2="97.5" y2="655.6"/>
<line x1="97.5" y1="659.8" x2="145.4" y2="659.8"/>
<line x1="97.5" y1="651.5" x2="127.8" y2="651.5"/>
<line x1="127.8" y1="648.6" x2="147.0" y2="648.6"/>
<line x1="127.8" y1="653.9" x2="159.7" y2="653.9"/>
<line x1="11.0" y1="656.6" x2="16.1" y2="656.6"/>
<line x1="16.1" y1="678.5" x2="24.1" y2="678.5"/>
<line x1="24.1" y1="682.2" x2="39.2" y2="682.2"/>
<line x1="24.1" y1="673.4" x2="64.4" y2="673.4"/>
<line x1="64.4" y1="671.5" x2="94.4" y2="671.5"/>
<line x1="64.4" y1="676.3" x2="94.4" y2="676.3"/>
</g>
<g fill="#111">
<circle cx="471.5" cy="98.5" r="1.35"/>
<circle cx="486.9" cy="92.6" r="1.35"/>
<circle cx="540.9" cy="81.2" r="1.35"/>
<circle cx="603.8" cy="86.9" r="1.35"/>
<circle cx="587.6" cy="75.8" r="1.35"/>
<circle cx="628.0" cy="69.9" r="1.35"/>
<circle cx="633.2" cy="58.8" r="1.35"/>
<circle cx="634.8" cy="64.3" r="1.35"/>
<circle cx="636.9" cy="52.7" r="1.35"/>
<circle cx="656.8" cy="41.6" r="1.35"/>
<circle cx="642.5" cy="47.0" r="1.35"/>
<circle cx="677.0" cy="35.5" r="1.35"/>
<circle cx="468.5" cy="183.4" r="1.35"/>
<circle cx="470.6" cy="177.7" r="1.35"/>
<circle cx="517.7" cy="172.1" r="1.35"/>
<circle cx="630.2" cy="166.5" r="1.35"/>
<circle cx="587.0" cy="160.6" r="1.35"/>
<circle cx="551.1" cy="154.8" r="1.35"/>
<circle cx="633.0" cy="149.3" r="1.35"/>
<circle cx="670.0" cy="143.5" r="1.35"/>
<circle cx="684.8" cy="137.9" r="1.35"/>
<circle cx="688.6" cy="126.8" r="1.35"/>
<circle cx="684.2" cy="132.3" r="1.35"/>
<circle cx="351.0" cy="188.7" r="1.35"/>
<circle cx="361.7" cy="206.4" r="1.35"/>
<circle cx="410.4" cy="194.6" r="1.35"/>
<circle cx="464.3" cy="200.1" r="1.35"/>
<circle cx="325.6" cy="211.7" r="1.35"/>
<circle cx="358.4" cy="217.2" r="1.35"/>
<circle cx="367.5" cy="222.9" r="1.35"/>
<circle cx="497.9" cy="257.3" r="1.35"/>
<circle cx="473.2" cy="239.6" r="1.35"/>
<circle cx="476.4" cy="229.0" r="1.35"/>
<circle cx="469.7" cy="234.3" r="1.35"/>
<circle cx="466.1" cy="245.9" r="1.35"/>
<circle cx="466.5" cy="250.9" r="1.35"/>
<circle cx="467.5" cy="262.6" r="1.35"/>
<circle cx="423.6" cy="268.2" r="1.35"/>
<circle cx="360.0" cy="273.7" r="1.35"/>
<circle cx="325.3" cy="290.7" r="1.35"/>
<circle cx="451.0" cy="279.8" r="1.35"/>
<circle cx="467.6" cy="285.6" r="1.35"/>
<circle cx="466.6" cy="319.3" r="1.35"/>
<circle cx="466.6" cy="314.1" r="1.35"/>
<circle cx="497.9" cy="307.9" r="1.35"/>
<circle cx="469.8" cy="296.8" r="1.35"/>
<circle cx="466.0" cy="302.1" r="1.35"/>
<circle cx="377.5" cy="325.1" r="1.35"/>
<circle cx="385.3" cy="330.3" r="1.35"/>
<circle cx="329.0" cy="336.2" r="1.35"/>
<circle cx="195.0" cy="477.9" r="1.35"/>
<circle cx="209.6" cy="472.7" r="1.35"/>
<circle cx="368.4" cy="415.6" r="1.35"/>
<circle cx="345.8" cy="421.6" r="1.35"/>
<circle cx="498.6" cy="410.5" r="1.35"/>
<circle cx="512.5" cy="404.2" r="1.35"/>
<circle cx="690.2" cy="398.8" r="1.35"/>
<circle cx="639.8" cy="364.5" r="1.35"/>
<circle cx="637.9" cy="370.4" r="1.35"/>
<circle cx="640.1" cy="376.8" r="1.35"/>
<circle cx="635.8" cy="382.1" r="1.35"/>
<circle cx="665.0" cy="358.9" r="1.35"/>
<circle cx="683.8" cy="352.7" r="1.35"/>
<circle cx="708.1" cy="342.2" r="1.35"/>
<circle cx="708.6" cy="347.6" r="1.35"/>
<circle cx="669.3" cy="387.3" r="1.35"/>
<circle cx="666.1" cy="393.2" r="1.35"/>
<circle cx="344.6" cy="467.1" r="1.35"/>
<circle cx="343.2" cy="439.1" r="1.35"/>
<circle cx="344.5" cy="427.4" r="1.35"/>
<circle cx="346.2" cy="433.0" r="1.35"/>
<circle cx="326.1" cy="444.4" r="1.35"/>
<circle cx="338.3" cy="450.2" r="1.35"/>
<circle cx="342.2" cy="455.4" r="1.35"/>
<circle cx="346.3" cy="461.2" r="1.35"/>
<circle cx="360.2" cy="546.2" r="1.35"/>
<circle cx="306.7" cy="529.6" r="1.35"/>
<circle cx="325.4" cy="522.8" r="1.35"/>
<circle cx="331.7" cy="534.9" r="1.35"/>
<circle cx="331.0" cy="540.6" r="1.35"/>
<circle cx="567.9" cy="506.4" r="1.35"/>
<circle cx="504.2" cy="500.7" r="1.35"/>
<circle cx="484.8" cy="511.9" r="1.35"/>
<circle cx="490.9" cy="517.8" r="1.35"/>
<circle cx="227.4" cy="574.6" r="1.35"/>
<circle cx="328.6" cy="568.9" r="1.35"/>
<circle cx="365.7" cy="563.0" r="1.35"/>
<circle cx="344.4" cy="551.6" r="1.35"/>
<circle cx="331.0" cy="557.7" r="1.35"/>
<circle cx="221.0" cy="579.6" r="1.35"/>
<circle cx="209.5" cy="585.5" r="1.35"/>
<circle cx="198.4" cy="591.3" r="1.35"/>
<circle cx="104.2" cy="597.4" r="1.35"/>
<circle cx="188.8" cy="642.6" r="1.35"/>
<circle cx="226.1" cy="631.2" r="1.35"/>
<circle cx="219.4" cy="636.9" r="1.35"/>
<circle cx="226.0" cy="626.0" r="1.35"/>
<circle cx="497.4" cy="620.3" r="1.35"/>
<circle cx="231.8" cy="614.9" r="1.35"/>
<circle cx="260.3" cy="603.2" r="1.35"/>
<circle cx="356.1" cy="609.3" r="1.35"/>
<circle cx="209.3" cy="665.2" r="1.35"/>
<circle cx="145.4" cy="659.8" r="1.35"/>
<circle cx="147.0" cy="648.6" r="1.35"/>
<circle cx="159.7" cy="653.9" r="1.35"/>
<circle cx="39.2" cy="682.2" r="1.35"/>
<circle cx="94.4" cy="671.5" r="1.35"/>
<circle cx="94.4" cy="676.3" r="1.35"/>
</g>
<g fill="#e8141e">
<circle cx="445.4" cy="90.7" r="4.1"/>
<circle cx="387.7" cy="134.9" r="4.1"/>
<circle cx="427.6" cy="177.8" r="4.1"/>
<circle cx="333.8" cy="187.6" r="4.1"/>
<circle cx="316.0" cy="210.5" r="4.1"/>
<circle cx="300.2" cy="233.8" r="4.1"/>
<circle cx="373.7" cy="257.4" r="4.1"/>
<circle cx="177.3" cy="391.1" r="4.1"/>
<circle cx="168.0" cy="465.8" r="4.1"/>
<circle cx="194.6" cy="465.8" r="4.1"/>
<circle cx="325.9" cy="413.4" r="4.1"/>
<circle cx="286.3" cy="455.4" r="4.1"/>
<circle cx="289.0" cy="522.5" r="4.1"/>
<circle cx="278.0" cy="564.1" r="4.1"/>
<circle cx="106.3" cy="575.9" r="4.1"/>
<circle cx="67.2" cy="609.1" r="4.1"/>
<circle cx="160.0" cy="632.3" r="4.1"/>
</g>
<line x1="285.4" y1="282.6" x2="285.4" y2="338.6" stroke="#e8141e" stroke-width="2.8"/>
<text class="clade" x="387.7" y="87.0">Eutheria</text>
<text class="age" x="433.0" y="99.7">133</text>
<text class="tip" x="472.5" y="108.0">97</text>
<text class="age" x="454.7" y="80.5">126</text>
<text class="tip" x="488.5" y="100.6">98</text>
<text class="age" x="493.5" y="72.1">115</text>
<text class="age" x="517.7" y="92.5">109</text>
<text class="tip" x="533.3" y="95.3">100</text>
<text class="tip" x="606.7" y="93.8">99</text>
<text class="age" x="540.0" y="62.6">103</text>
<text class="tip" x="577.4" y="84.5">101</text>
<text class="age" x="567.9" y="52.6">95</text>
<text class="age" x="599.0" y="72.6">87</text>
<text class="tip" x="626.0" y="80.2">102</text>
<text class="age" x="610.6" y="58.8">83</text>
<text class="tip" x="644.7" y="63.8">104</text>
<text class="tip" x="637.3" y="71.8">103</text>
<text class="age" x="593.0" y="43.3">88</text>
<text class="tip" x="617.7" y="55.5">105</text>
<text class="age" x="610.6" y="34.5">83</text>
<text class="age" x="628.0" y="43.3">78</text>
<text class="tip" x="660.5" y="44.8">107</text>
<text class="tip" x="644.7" y="53.2">106</text>
<text class="age" x="645.5" y="28.0">73</text>
<text class="tip" x="684.2" y="40.0">108</text>
<text class="clade" x="622.0" y="20.3">Placentalia</text>
<text class="clade" x="390.7" y="129.0">Theria</text>
<text class="age" x="373.8" y="141.7">149</text>
<text class="clade" x="388.9" y="165.2">Metatheria</text>
<text class="age" x="411.7" y="173.3">138</text>
<text class="tip" x="469.8" y="191.0">86</text>
<text class="age" x="449.6" y="164.1">130</text>
<text class="tip" x="472.5" y="182.1">87</text>
<text class="age" x="481.2" y="156.1">120</text>
<text class="tip" x="524.6" y="175.3">88</text>
<text class="age" x="508.6" y="151.3">113</text>
<text class="tip" x="637.3" y="169.9">89</text>
<text class="tip" x="593.8" y="163.9">90</text>
<text class="age" x="541.6" y="139.0">103</text>
<text class="tip" x="557.5" y="157.9">91</text>
<text class="age" x="590.2" y="138.0">88</text>
<text class="tip" x="640.0" y="154.1">92</text>
<text class="age" x="625.5" y="131.1">79</text>
<text class="tip" x="670.0" y="154.1">93</text>
<text class="age" x="643.7" y="120.0">73</text>
<text class="age" x="660.5" y="140.9">67</text>
<text class="tip" x="690.6" y="144.2">94</text>
<text class="age" x="675.4" y="124.7">66</text>
<text class="tip" x="686.6" y="124.9">96</text>
<text class="tip" x="690.4" y="135.2">95</text>
<text class="clade" x="621.9" y="108.1">Marsupialia</text>
<text class="age" x="338.7" y="157.9">160</text>
<text class="tip" x="353.8" y="192.0">85</text>
<text class="clade" x="289.5" y="181.5">Zatheria</text>
<text class="age" x="336.3" y="182.6">165</text>
<text class="tip" x="363.8" y="208.5">82</text>
<text class="age" x="368.2" y="193.0">154</text>
<text class="tip" x="413.6" y="197.8">84</text>
<text class="tip" x="471.0" y="203.5">83</text>
<text class="age" x="314.4" y="196.8">167</text>
<text class="tip" x="328.7" y="215.4">81</text>
<text class="clade" x="239.7" y="216.2">Cladotheria</text>
<text class="age" x="303.4" y="218.4">170</text>
<text class="age" x="334.5" y="228.2">162</text>
<text class="tip" x="360.4" y="217.6">80</text>
<text class="tip" x="370.0" y="230.3">79</text>
<text class="clade" x="225.9" y="230.8">Trechnotheria</text>
<text class="age" x="286.6" y="243.3">174</text>
<text class="clade" x="317.2" y="246.7">Symmetrodonta</text>
<text class="age" x="358.2" y="264.8">153</text>
<text class="age" x="407.2" y="239.2">142</text>
<text class="tip" x="501.7" y="262.1">73</text>
<text class="age" x="427.6" y="233.0">136</text>
<text class="age" x="444.2" y="229.0">130</text>
<text class="tip" x="485.4" y="245.7">76</text>
<text class="age" x="458.2" y="226.3">127</text>
<text class="tip" x="476.1" y="226.3">78</text>
<text class="tip" x="479.0" y="237.6">77</text>
<text class="age" x="444.5" y="254.9">130</text>
<text class="tip" x="474.5" y="249.7">75</text>
<text class="tip" x="468.8" y="259.4">74</text>
<text class="age" x="405.0" y="272.7">141</text>
<text class="tip" x="470.1" y="269.8">72</text>
<text class="tip" x="427.6" y="274.2">71</text>
<text class="age" x="271.2" y="250.9">179</text>
<text class="tip" x="368.3" y="278.2">70</text>
<text class="age" x="249.8" y="267.3">185</text>
<text class="age" x="286.4" y="283.6">175</text>
<text class="tip" x="328.5" y="295.2">67</text>
<text class="age" x="421.8" y="289.1">137</text>
<text class="tip" x="452.1" y="278.5">69</text>
<text class="tip" x="472.9" y="289.1">68</text>
<text class="age" x="232.2" y="292.9">191</text>
<text class="age" x="322.6" y="317.6">165</text>
<text class="age" x="386.8" y="305.1">147</text>
<text class="tip" x="468.7" y="328.1">62</text>
<text class="age" x="411.0" y="300.5">141</text>
<text class="tip" x="468.7" y="317.9">63</text>
<text class="age" x="427.7" y="294.9">136</text>
<text class="tip" x="501.7" y="311.7">64</text>
<text class="age" x="445.4" y="294.5">131</text>
<text class="tipred" x="473.0" y="298.0">66</text>
<text class="tip" x="472.3" y="306.2">65</text>
<text class="age" x="353.3" y="334.0">156</text>
<text class="tip" x="381.2" y="325.6">61</text>
<text class="tip" x="381.2" y="339.2">60</text>
<text class="tip" x="332.2" y="340.2">59</text>
<text class="age" x="197.1" y="312.8">200</text>
<text class="clade" x="243.1" y="348.4">Eutriconodonta</text>
<text class="clade" x="197.6" y="385.3">Theriiformes</text>
<text class="age" x="179.0" y="399.5">210</text>
<text class="bold" x="110.8" y="460.3">Mammalia</text>
<text class="age" x="154.0" y="474.2">212</text>
<text class="age" x="179.7" y="474.2">205</text>
<text class="tip" x="197.7" y="482.6">34</text>
<text class="clade" x="170.8" y="491.3">Allotheria</text>
<text class="age" x="197.5" y="450.5">200</text>
<text class="tip" x="212.6" y="475.1">35</text>
<text class="age" x="230.0" y="431.7">191</text>
<text class="clade" x="241.7" y="408.3">Multituberculata</text>
<text class="age" x="327.2" y="409.0">167</text>
<text class="tip" x="364.4" y="413.6">45</text>
<text class="tip" x="348.5" y="425.6">44</text>
<text class="age" x="468.2" y="409.0">123</text>
<text class="tip" x="506.5" y="414.5">46</text>
<text class="age" x="492.9" y="391.3">116</text>
<text class="tip" x="519.2" y="406.2">47</text>
<text class="small" x="432.3" y="379.4">Lorem Ipsum</text>
<text class="age" x="560.8" y="381.6">97</text>
<text class="tip" x="686.4" y="408.8">48</text>
<text class="age" x="583.1" y="361.3">91</text>
<text class="age" x="599.9" y="380.5">86</text>
<text class="tip" x="628.6" y="364.5">54</text>
<text class="tip" x="643.0" y="373.3">53</text>
<text class="tip" x="647.0" y="380.0">52</text>
<text class="tip" x="637.4" y="387.7">51</text>
<text class="age" x="630.2" y="350.6">77</text>
<text class="tip" x="664.5" y="368.5">55</text>
<text class="age" x="657.7" y="346.2">70</text>
<text class="tip" x="684.6" y="364.1">56</text>
<text class="age" x="687.6" y="339.9">62</text>
<text class="tip" x="703.0" y="339.1">58</text>
<text class="tip" x="709.4" y="357.3">57</text>
<text class="age" x="653.0" y="397.2">71</text>
<text class="tip" x="672.3" y="386.9">50</text>
<text class="tip" x="672.3" y="396.6">49</text>
<text class="age" x="273.2" y="464.1">178</text>
<text class="clade" x="249.7" y="477.9">Euharamiyida</text>
<text class="tip" x="339.0" y="477.8">36</text>
<text class="age" x="313.4" y="428.0">168</text>
<text class="tip" x="346.5" y="444.2">41</text>
<text class="age" x="327.2" y="425.9">165</text>
<text class="tip" x="361.1" y="429.5">43</text>
<text class="tip" x="350.5" y="435.8">42</text>
<text class="age" x="311.9" y="452.9">168</text>
<text class="tip" x="328.8" y="446.1">40</text>
<text class="tip" x="340.2" y="453.1">39</text>
<text class="age" x="320.7" y="464.9">166</text>
<text class="tip" x="349.2" y="459.6">38</text>
<text class="tip" x="351.4" y="469.8">37</text>
<text class="clade" x="206.9" y="512.3">Australosphenida</text>
<text class="age" x="213.0" y="546.0">196</text>
<text class="tip" x="365.7" y="550.7">25</text>
<text class="age" x="241.5" y="527.8">187</text>
<text class="age" x="274.0" y="520.1">178</text>
<text class="tip" x="312.6" y="533.0">28</text>
<text class="age" x="310.6" y="513.2">168</text>
<text class="tip" x="331.5" y="525.9">29</text>
<text class="age" x="302.2" y="536.5">170</text>
<text class="tip" x="334.1" y="536.2">27</text>
<text class="tip" x="336.5" y="544.5">26</text>
<text class="age" x="426.3" y="503.9">135</text>
<text class="age" x="469.6" y="493.3">122</text>
<text class="tip" x="570.9" y="510.5">32</text>
<text class="age" x="490.9" y="489.3">118</text>
<text class="tip" x="513.5" y="505.2">33</text>
<text class="clade2" x="610.9" y="487.8">Monotremata</text>
<text class="age" x="459.0" y="522.6">125</text>
<text class="tip" x="487.4" y="513.9">31</text>
<text class="tip" x="490.9" y="527.9">30</text>
<text class="age" x="135.6" y="531.2">218</text>
<text class="tip" x="231.2" y="574.8">20</text>
<text class="age" x="270.0" y="555.3">181</text>
<text class="clade" x="262.3" y="578.5">Docodonta</text>
<text class="tip" x="331.0" y="575.5">21</text>
<text class="age" x="290.3" y="551.3">175</text>
<text class="tip" x="370.3" y="567.3">22</text>
<text class="age" x="306.7" y="551.3">170</text>
<text class="tip" x="349.8" y="556.3">24</text>
<text class="tip" x="334.1" y="561.8">23</text>
<text class="age" x="117.9" y="555.4">223</text>
<text class="age" x="177.5" y="580.0">206</text>
<text class="tip" x="225.0" y="584.0">19</text>
<text class="tip" x="212.9" y="588.9">18</text>
<text class="bold" x="11.0" y="570.4">Mammaliaformes</text>
<text class="age" x="110.1" y="582.4">230</text>
<text class="tip" x="201.7" y="594.5">17</text>
<text class="age" x="67.6" y="593.3">238</text>
<text class="tip" x="94.1" y="596.3">16</text>
<text class="bold" x="73.9" y="606.8">Mammaliamorpha</text>
<text class="age" x="54.4" y="617.2">241</text>
<text class="clade" x="82.3" y="629.1">Tritylodontidae</text>
<text class="age" x="164.0" y="628.4">215</text>
<text class="tip" x="183.9" y="653.7">8</text>
<text class="age" x="197.2" y="643.5">203</text>
<text class="tip" x="234.0" y="637.2">10</text>
<text class="tip" x="221.1" y="645.6">9</text>
<text class="age" x="183.0" y="627.6">204</text>
<text class="tip" x="229.8" y="628.0">11</text>
<text class="age" x="201.2" y="607.6">201</text>
<text class="tipred2" x="501.5" y="623.5">12</text>
<text class="age" x="214.5" y="603.4">198</text>
<text class="tip" x="242.0" y="619.5">13</text>
<text class="age" x="237.0" y="602.8">191</text>
<text class="tip" x="264.8" y="605.7">15</text>
<text class="tip" x="359.0" y="611.6">14</text>
<text class="age" x="29.3" y="631.8">248</text>
<text class="age" x="58.2" y="651.9">242</text>
<text class="tip" x="213.6" y="668.4">4</text>
<text class="age" x="89.5" y="648.0">233</text>
<text class="tip" x="148.6" y="662.7">5</text>
<text class="age" x="122.2" y="646.4">224</text>
<text class="tip" x="149.0" y="647.0">7</text>
<text class="tip" x="164.5" y="657.1">6</text>
<text class="age" x="4.4" y="663.9">258</text>
<text class="age" x="13.2" y="688.0">253</text>
<text class="tip" x="42.4" y="688.0">1</text>
<text class="age" x="57.1" y="684.4">242</text>
<text class="tip" x="99.5" y="675.6">3</text>
<text class="tip" x="93.6" y="686.6">2</text>
<path d="M687.8,22.3 L712.3,22.3 L712.3,17.6 L737.6,24.0 L712.3,30.4 L712.3,25.7 L687.8,25.7 Z" fill="#26d626"/>
<path d="M687.8,110.39999999999999 L712.3,110.39999999999999 L712.3,105.69999999999999 L737.6,112.1 L712.3,118.5 L712.3,113.8 L687.8,113.8 Z" fill="#26d626"/>
<path d="M687.8,489.2 L712.3,489.2 L712.3,484.79999999999995 L737.6,490.9 L712.3,497.0 L712.3,492.59999999999997 L687.8,492.59999999999997 Z" fill="#26d626"/>
<rect x="576.8" y="12.5" width="10" height="10" fill="#0a0aeb"/>
<polygon points="597.30,12.60 602.25,16.19 600.36,22.01 594.24,22.01 592.35,16.19" fill="#0a0aeb"/>
<circle cx="612.6" cy="17.2" r="5.1" fill="#0a0aeb"/>
<rect x="686" y="98.2" width="9.8" height="9.8" fill="#0a0aeb"/>
<rect x="410.8" y="330.8" width="10.2" height="10.2" fill="#0a0aeb"/>
<polygon points="431.00,330.00 436.71,334.15 434.53,340.85 427.47,340.85 425.29,334.15" fill="#0a0aeb"/>
<circle cx="445.7" cy="335.2" r="5.4" fill="#0a0aeb"/>
<rect x="512" y="371.5" width="10" height="10" fill="#0a0aeb"/>
<polygon points="691.90,378.50 697.32,382.44 695.25,388.81 688.55,388.81 686.48,382.44" fill="#0a0aeb"/>
<circle cx="704.5" cy="383.7" r="5.5" fill="#0a0aeb"/>
<rect x="686.4" y="477" width="9.6" height="9.6" fill="#0a0aeb"/>
<rect x="381" y="541.8" width="10" height="10" fill="#0a0aeb"/>
<polygon points="325.80,577.60 331.03,581.40 329.03,587.55 322.57,587.55 320.57,581.40" fill="#0a0aeb"/>
<circle cx="338.9" cy="582.4" r="5.3" fill="#0a0aeb"/>
<rect x="448.3" y="607.5" width="10" height="10" fill="#0a0aeb"/>
<polygon points="466.90,606.55 472.46,610.59 470.34,617.13 463.46,617.13 461.34,610.59" fill="#0a0aeb"/>
<circle cx="480.3" cy="612.3" r="5.4" fill="#0a0aeb"/>
<rect x="547.6" y="645.8" width="10" height="10" fill="#0a0aeb"/>
<polygon points="552.40,662.90 558.01,666.98 555.87,673.57 548.93,673.57 546.79,666.98" fill="#0a0aeb"/>
<circle cx="552.4" cy="686.5" r="5.6" fill="#0a0aeb"/>
<text class="leg" x="567.5" y="654">fossorial adaptation</text>
<text class="leg" x="567" y="670.5">meristic changes</text>
<text class="leg" x="568.9" y="689.3">homeotic changes</text>
<text class="kpg" x="674.3" y="548.2">K</text><text class="kpg" x="686.9" y="548.2">Pg</text>
</svg></body></html>
